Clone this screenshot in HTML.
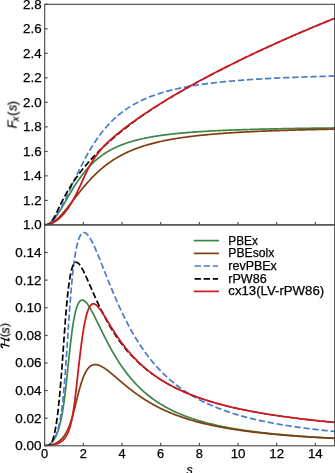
<!DOCTYPE html>
<html><head><meta charset="utf-8"><title>chart</title><style>html,body{margin:0;padding:0;background:#fff}body{width:335px;height:473px;overflow:hidden}svg{position:absolute;left:0;top:0}text{filter:url(#nf);stroke:#000;stroke-width:.25px}</style></head><body>
<svg width="335" height="473" viewBox="0 0 335 473" style="display:block;font-family:'Liberation Sans',sans-serif;font-size:12.5px" fill="#000">
<defs><filter id="nf" x="-20%" y="-20%" width="140%" height="140%"><feOffset dx="0" dy="0"/></filter><clipPath id="ct"><rect x="44.7" y="4.3" width="290.3" height="220.6"/></clipPath><clipPath id="cb"><rect x="44.7" y="224.9" width="290.3" height="220.9"/></clipPath></defs>
<rect width="335" height="473" fill="#fff"/>
<g clip-path="url(#ct)" fill="none" stroke-width="1.7" stroke-linejoin="round">
<path d="M44.70,224.90 L45.09,224.89 L45.47,224.86 L45.86,224.80 L46.25,224.73 L46.63,224.63 L47.02,224.51 L47.41,224.38 L47.79,224.22 L48.18,224.04 L48.57,223.84 L48.95,223.61 L49.34,223.37 L49.73,223.11 L50.11,222.84 L50.50,222.54 L50.89,222.22 L51.27,221.89 L51.66,221.53 L52.05,221.16 L52.43,220.78 L52.82,220.37 L53.21,219.95 L53.59,219.52 L53.98,219.07 L54.37,218.60 L54.75,218.13 L55.14,217.63 L55.53,217.13 L55.91,216.61 L56.30,216.08 L56.69,215.54 L57.07,214.99 L57.46,214.43 L57.85,213.85 L58.23,213.27 L58.62,212.68 L59.01,212.08 L59.39,211.48 L59.78,210.86 L60.17,210.24 L60.55,209.62 L60.94,208.98 L61.33,208.35 L61.71,207.70 L62.10,207.06 L62.49,206.40 L62.87,205.75 L63.26,205.09 L63.65,204.43 L64.03,203.77 L64.42,203.10 L64.81,202.44 L65.19,201.77 L65.58,201.10 L65.97,200.43 L66.35,199.76 L66.74,199.09 L67.13,198.43 L67.51,197.76 L67.90,197.09 L68.29,196.43 L68.67,195.77 L69.06,195.10 L69.45,194.45 L69.83,193.79 L70.22,193.14 L70.61,192.49 L70.99,191.84 L71.38,191.19 L71.77,190.55 L72.15,189.91 L72.54,189.28 L72.93,188.65 L73.31,188.03 L73.70,187.40 L74.09,186.79 L74.47,186.17 L74.86,185.57 L75.25,184.96 L75.63,184.36 L76.02,183.77 L76.41,183.18 L76.79,182.60 L77.18,182.02 L77.57,181.44 L77.95,180.87 L78.34,180.31 L78.73,179.75 L79.11,179.20 L79.50,178.65 L79.89,178.11 L80.27,177.57 L80.66,177.04 L81.05,176.51 L81.43,175.99 L81.82,175.47 L82.21,174.96 L82.59,174.46 L82.98,173.96 L83.37,173.46 L83.75,172.97 L84.14,172.49 L84.53,172.01 L84.91,171.54 L85.30,171.07 L85.69,170.61 L86.07,170.15 L86.46,169.70 L86.85,169.25 L87.23,168.81 L87.62,168.37 L88.01,167.94 L88.39,167.52 L88.78,167.09 L89.17,166.68 L89.55,166.27 L89.94,165.86 L90.33,165.46 L90.71,165.06 L91.10,164.67 L91.49,164.28 L91.87,163.90 L92.26,163.52 L92.65,163.14 L93.03,162.77 L93.42,162.41 L93.81,162.05 L94.19,161.69 L94.58,161.34 L94.97,160.99 L95.35,160.65 L95.74,160.31 L96.13,159.97 L96.51,159.64 L96.90,159.32 L97.29,158.99 L97.67,158.67 L98.06,158.36 L98.45,158.05 L98.83,157.74 L99.22,157.44 L99.61,157.14 L99.99,156.84 L100.38,156.55 L100.77,156.26 L101.15,155.97 L101.54,155.69 L101.93,155.41 L102.31,155.14 L102.70,154.87 L103.09,154.60 L103.47,154.33 L103.86,154.07 L104.25,153.81 L104.63,153.56 L105.02,153.30 L105.41,153.05 L105.79,152.81 L106.18,152.57 L106.57,152.32 L106.95,152.09 L107.34,151.85 L107.73,151.62 L108.11,151.39 L108.50,151.17 L108.89,150.94 L109.27,150.72 L109.66,150.50 L110.05,150.29 L110.43,150.07 L110.82,149.86 L111.21,149.65 L111.59,149.45 L111.98,149.25 L112.37,149.05 L112.75,148.85 L113.14,148.65 L113.53,148.46 L113.91,148.27 L114.30,148.08 L114.69,147.89 L115.07,147.71 L115.46,147.52 L115.85,147.34 L116.23,147.16 L116.62,146.99 L117.01,146.81 L117.39,146.64 L117.78,146.47 L118.17,146.30 L118.55,146.14 L118.94,145.97 L119.33,145.81 L119.71,145.65 L120.10,145.49 L120.49,145.33 L120.87,145.18 L121.26,145.02 L121.65,144.87 L122.03,144.72 L122.42,144.57 L122.81,144.42 L123.19,144.28 L123.58,144.14 L123.97,143.99 L124.35,143.85 L124.74,143.71 L125.13,143.58 L125.51,143.44 L125.90,143.31 L126.29,143.17 L126.67,143.04 L127.06,142.91 L127.45,142.78 L127.83,142.66 L128.22,142.53 L128.61,142.41 L128.99,142.28 L129.38,142.16 L129.77,142.04 L130.15,141.92 L130.54,141.80 L130.93,141.69 L131.31,141.57 L131.70,141.46 L132.09,141.34 L132.47,141.23 L132.86,141.12 L133.25,141.01 L133.63,140.90 L134.02,140.80 L134.41,140.69 L134.79,140.59 L135.18,140.48 L135.57,140.38 L135.95,140.28 L136.34,140.18 L136.73,140.08 L137.11,139.98 L137.50,139.88 L137.89,139.78 L138.27,139.69 L138.66,139.59 L139.05,139.50 L139.43,139.41 L139.82,139.32 L140.21,139.22 L140.59,139.13 L140.98,139.05 L141.37,138.96 L142.33,138.74 L143.30,138.53 L144.26,138.32 L145.23,138.12 L146.20,137.92 L147.16,137.73 L148.13,137.54 L149.10,137.36 L150.06,137.18 L151.03,137.01 L152.00,136.84 L152.96,136.67 L153.93,136.51 L154.90,136.35 L155.86,136.19 L156.83,136.04 L157.80,135.89 L158.76,135.75 L159.73,135.60 L160.70,135.46 L161.66,135.33 L162.63,135.20 L163.60,135.06 L164.56,134.94 L165.53,134.81 L166.50,134.69 L167.46,134.57 L168.43,134.45 L169.40,134.34 L170.36,134.23 L171.33,134.12 L172.30,134.01 L173.26,133.90 L174.23,133.80 L175.20,133.70 L176.16,133.60 L177.13,133.50 L178.10,133.40 L179.06,133.31 L180.03,133.22 L181.00,133.13 L181.96,133.04 L182.93,132.95 L183.90,132.87 L184.86,132.78 L185.83,132.70 L186.80,132.62 L187.76,132.54 L188.73,132.47 L189.70,132.39 L190.66,132.31 L191.63,132.24 L192.60,132.17 L193.56,132.10 L194.53,132.03 L195.50,131.96 L196.46,131.89 L197.43,131.83 L198.40,131.76 L199.36,131.70 L200.33,131.64 L201.30,131.58 L202.26,131.51 L203.23,131.46 L204.20,131.40 L205.16,131.34 L206.13,131.28 L207.10,131.23 L208.06,131.17 L209.03,131.12 L210.00,131.07 L210.96,131.01 L211.93,130.96 L212.90,130.91 L213.86,130.86 L214.83,130.82 L215.80,130.77 L216.76,130.72 L217.73,130.67 L218.70,130.63 L219.66,130.58 L220.63,130.54 L221.60,130.50 L222.56,130.45 L223.53,130.41 L224.50,130.37 L225.46,130.33 L226.43,130.29 L227.40,130.25 L228.36,130.21 L229.33,130.17 L230.30,130.13 L231.26,130.09 L232.23,130.06 L233.20,130.02 L234.16,129.99 L235.13,129.95 L236.10,129.91 L237.06,129.88 L238.03,129.85 L239.00,129.81 L239.96,129.78 L240.93,129.75 L241.90,129.72 L242.86,129.68 L243.83,129.65 L244.80,129.62 L245.76,129.59 L246.73,129.56 L247.70,129.53 L248.66,129.50 L249.63,129.48 L250.60,129.45 L251.56,129.42 L252.53,129.39 L253.50,129.37 L254.46,129.34 L255.43,129.31 L256.40,129.29 L257.36,129.26 L258.33,129.23 L259.30,129.21 L260.26,129.19 L261.23,129.16 L262.20,129.14 L263.16,129.11 L264.13,129.09 L265.10,129.07 L266.06,129.04 L267.03,129.02 L268.00,129.00 L268.96,128.98 L269.93,128.95 L270.90,128.93 L271.86,128.91 L272.83,128.89 L273.80,128.87 L274.76,128.85 L275.73,128.83 L276.70,128.81 L277.66,128.79 L278.63,128.77 L279.60,128.75 L280.56,128.73 L281.53,128.71 L282.50,128.69 L283.46,128.68 L284.43,128.66 L285.40,128.64 L286.36,128.62 L287.33,128.60 L288.30,128.59 L289.26,128.57 L290.23,128.55 L291.20,128.54 L292.16,128.52 L293.13,128.50 L294.10,128.49 L295.06,128.47 L296.03,128.46 L297.00,128.44 L297.96,128.42 L298.93,128.41 L299.90,128.39 L300.86,128.38 L301.83,128.36 L302.80,128.35 L303.76,128.34 L304.73,128.32 L305.70,128.31 L306.66,128.29 L307.63,128.28 L308.60,128.26 L309.56,128.25 L310.53,128.24 L311.50,128.22 L312.46,128.21 L313.43,128.20 L314.40,128.19 L315.36,128.17 L316.33,128.16 L317.30,128.15 L318.26,128.14 L319.23,128.12 L320.20,128.11 L321.16,128.10 L322.13,128.09 L323.10,128.08 L324.06,128.06 L325.03,128.05 L326.00,128.04 L326.96,128.03 L327.93,128.02 L328.90,128.01 L329.86,128.00 L330.83,127.99 L331.80,127.98 L332.76,127.96 L333.73,127.95 L334.69,127.94" stroke="#3c8647" stroke-linecap="square"/>
<path d="M44.70,224.90 L45.09,224.89 L45.47,224.88 L45.86,224.85 L46.25,224.80 L46.63,224.75 L47.02,224.68 L47.41,224.60 L47.79,224.51 L48.18,224.41 L48.57,224.30 L48.95,224.17 L49.34,224.04 L49.73,223.89 L50.11,223.73 L50.50,223.56 L50.89,223.37 L51.27,223.18 L51.66,222.98 L52.05,222.76 L52.43,222.54 L52.82,222.30 L53.21,222.06 L53.59,221.80 L53.98,221.53 L54.37,221.26 L54.75,220.97 L55.14,220.68 L55.53,220.37 L55.91,220.06 L56.30,219.74 L56.69,219.41 L57.07,219.07 L57.46,218.72 L57.85,218.37 L58.23,218.00 L58.62,217.63 L59.01,217.26 L59.39,216.87 L59.78,216.48 L60.17,216.08 L60.55,215.68 L60.94,215.27 L61.33,214.85 L61.71,214.43 L62.10,214.00 L62.49,213.57 L62.87,213.13 L63.26,212.68 L63.65,212.24 L64.03,211.78 L64.42,211.33 L64.81,210.87 L65.19,210.40 L65.58,209.93 L65.97,209.46 L66.35,208.99 L66.74,208.51 L67.13,208.03 L67.51,207.54 L67.90,207.06 L68.29,206.57 L68.67,206.08 L69.06,205.59 L69.45,205.09 L69.83,204.60 L70.22,204.10 L70.61,203.60 L70.99,203.11 L71.38,202.61 L71.77,202.11 L72.15,201.60 L72.54,201.10 L72.93,200.60 L73.31,200.10 L73.70,199.60 L74.09,199.10 L74.47,198.60 L74.86,198.10 L75.25,197.60 L75.63,197.10 L76.02,196.60 L76.41,196.10 L76.79,195.60 L77.18,195.11 L77.57,194.61 L77.95,194.12 L78.34,193.63 L78.73,193.14 L79.11,192.65 L79.50,192.16 L79.89,191.68 L80.27,191.20 L80.66,190.72 L81.05,190.24 L81.43,189.76 L81.82,189.28 L82.21,188.81 L82.59,188.34 L82.98,187.87 L83.37,187.41 L83.75,186.94 L84.14,186.48 L84.53,186.02 L84.91,185.57 L85.30,185.12 L85.69,184.67 L86.07,184.22 L86.46,183.77 L86.85,183.33 L87.23,182.89 L87.62,182.45 L88.01,182.02 L88.39,181.59 L88.78,181.16 L89.17,180.74 L89.55,180.31 L89.94,179.89 L90.33,179.48 L90.71,179.06 L91.10,178.65 L91.49,178.25 L91.87,177.84 L92.26,177.44 L92.65,177.04 L93.03,176.65 L93.42,176.25 L93.81,175.86 L94.19,175.48 L94.58,175.09 L94.97,174.71 L95.35,174.34 L95.74,173.96 L96.13,173.59 L96.51,173.22 L96.90,172.86 L97.29,172.49 L97.67,172.14 L98.06,171.78 L98.45,171.43 L98.83,171.08 L99.22,170.73 L99.61,170.38 L99.99,170.04 L100.38,169.70 L100.77,169.37 L101.15,169.03 L101.54,168.70 L101.93,168.38 L102.31,168.05 L102.70,167.73 L103.09,167.41 L103.47,167.10 L103.86,166.78 L104.25,166.47 L104.63,166.17 L105.02,165.86 L105.41,165.56 L105.79,165.26 L106.18,164.96 L106.57,164.67 L106.95,164.38 L107.34,164.09 L107.73,163.80 L108.11,163.52 L108.50,163.24 L108.89,162.96 L109.27,162.69 L109.66,162.41 L110.05,162.14 L110.43,161.87 L110.82,161.61 L111.21,161.34 L111.59,161.08 L111.98,160.82 L112.37,160.57 L112.75,160.31 L113.14,160.06 L113.53,159.81 L113.91,159.56 L114.30,159.32 L114.69,159.08 L115.07,158.84 L115.46,158.60 L115.85,158.36 L116.23,158.13 L116.62,157.90 L117.01,157.67 L117.39,157.44 L117.78,157.21 L118.17,156.99 L118.55,156.77 L118.94,156.55 L119.33,156.33 L119.71,156.12 L120.10,155.91 L120.49,155.69 L120.87,155.49 L121.26,155.28 L121.65,155.07 L122.03,154.87 L122.42,154.67 L122.81,154.47 L123.19,154.27 L123.58,154.07 L123.97,153.88 L124.35,153.69 L124.74,153.50 L125.13,153.31 L125.51,153.12 L125.90,152.93 L126.29,152.75 L126.67,152.57 L127.06,152.39 L127.45,152.21 L127.83,152.03 L128.22,151.85 L128.61,151.68 L128.99,151.51 L129.38,151.34 L129.77,151.17 L130.15,151.00 L130.54,150.83 L130.93,150.67 L131.31,150.50 L131.70,150.34 L132.09,150.18 L132.47,150.02 L132.86,149.87 L133.25,149.71 L133.63,149.55 L134.02,149.40 L134.41,149.25 L134.79,149.10 L135.18,148.95 L135.57,148.80 L135.95,148.65 L136.34,148.51 L136.73,148.36 L137.11,148.22 L137.50,148.08 L137.89,147.94 L138.27,147.80 L138.66,147.66 L139.05,147.52 L139.43,147.39 L139.82,147.25 L140.21,147.12 L140.59,146.99 L140.98,146.86 L141.37,146.73 L142.33,146.41 L143.30,146.10 L144.26,145.79 L145.23,145.49 L146.20,145.20 L147.16,144.91 L148.13,144.63 L149.10,144.35 L150.06,144.08 L151.03,143.82 L152.00,143.56 L152.96,143.31 L153.93,143.06 L154.90,142.82 L155.86,142.58 L156.83,142.35 L157.80,142.12 L158.76,141.89 L159.73,141.67 L160.70,141.46 L161.66,141.25 L162.63,141.04 L163.60,140.84 L164.56,140.64 L165.53,140.45 L166.50,140.25 L167.46,140.07 L168.43,139.88 L169.40,139.70 L170.36,139.53 L171.33,139.35 L172.30,139.18 L173.26,139.01 L174.23,138.85 L175.20,138.69 L176.16,138.53 L177.13,138.37 L178.10,138.22 L179.06,138.07 L180.03,137.92 L181.00,137.78 L181.96,137.64 L182.93,137.50 L183.90,137.36 L184.86,137.23 L185.83,137.10 L186.80,136.97 L187.76,136.84 L188.73,136.71 L189.70,136.59 L190.66,136.47 L191.63,136.35 L192.60,136.23 L193.56,136.12 L194.53,136.00 L195.50,135.89 L196.46,135.78 L197.43,135.68 L198.40,135.57 L199.36,135.47 L200.33,135.36 L201.30,135.26 L202.26,135.16 L203.23,135.07 L204.20,134.97 L205.16,134.88 L206.13,134.78 L207.10,134.69 L208.06,134.60 L209.03,134.51 L210.00,134.43 L210.96,134.34 L211.93,134.25 L212.90,134.17 L213.86,134.09 L214.83,134.01 L215.80,133.93 L216.76,133.85 L217.73,133.77 L218.70,133.70 L219.66,133.62 L220.63,133.55 L221.60,133.48 L222.56,133.41 L223.53,133.33 L224.50,133.27 L225.46,133.20 L226.43,133.13 L227.40,133.06 L228.36,133.00 L229.33,132.93 L230.30,132.87 L231.26,132.81 L232.23,132.74 L233.20,132.68 L234.16,132.62 L235.13,132.56 L236.10,132.50 L237.06,132.45 L238.03,132.39 L239.00,132.33 L239.96,132.28 L240.93,132.22 L241.90,132.17 L242.86,132.12 L243.83,132.06 L244.80,132.01 L245.76,131.96 L246.73,131.91 L247.70,131.86 L248.66,131.81 L249.63,131.76 L250.60,131.72 L251.56,131.67 L252.53,131.62 L253.50,131.58 L254.46,131.53 L255.43,131.49 L256.40,131.44 L257.36,131.40 L258.33,131.35 L259.30,131.31 L260.26,131.27 L261.23,131.23 L262.20,131.19 L263.16,131.15 L264.13,131.11 L265.10,131.07 L266.06,131.03 L267.03,130.99 L268.00,130.95 L268.96,130.91 L269.93,130.88 L270.90,130.84 L271.86,130.80 L272.83,130.77 L273.80,130.73 L274.76,130.70 L275.73,130.66 L276.70,130.63 L277.66,130.59 L278.63,130.56 L279.60,130.53 L280.56,130.50 L281.53,130.46 L282.50,130.43 L283.46,130.40 L284.43,130.37 L285.40,130.34 L286.36,130.31 L287.33,130.28 L288.30,130.25 L289.26,130.22 L290.23,130.19 L291.20,130.16 L292.16,130.13 L293.13,130.10 L294.10,130.08 L295.06,130.05 L296.03,130.02 L297.00,129.99 L297.96,129.97 L298.93,129.94 L299.90,129.92 L300.86,129.89 L301.83,129.86 L302.80,129.84 L303.76,129.81 L304.73,129.79 L305.70,129.76 L306.66,129.74 L307.63,129.72 L308.60,129.69 L309.56,129.67 L310.53,129.65 L311.50,129.62 L312.46,129.60 L313.43,129.58 L314.40,129.56 L315.36,129.53 L316.33,129.51 L317.30,129.49 L318.26,129.47 L319.23,129.45 L320.20,129.43 L321.16,129.41 L322.13,129.39 L323.10,129.37 L324.06,129.35 L325.03,129.33 L326.00,129.31 L326.96,129.29 L327.93,129.27 L328.90,129.25 L329.86,129.23 L330.83,129.21 L331.80,129.19 L332.76,129.17 L333.73,129.16 L334.69,129.14" stroke="#813d12" stroke-linecap="square"/>
<path d="M44.70,224.90 L45.09,224.89 L45.47,224.86 L45.86,224.80 L46.25,224.73 L46.63,224.63 L47.02,224.51 L47.41,224.37 L47.79,224.21 L48.18,224.03 L48.57,223.83 L48.95,223.61 L49.34,223.37 L49.73,223.10 L50.11,222.82 L50.50,222.52 L50.89,222.19 L51.27,221.85 L51.66,221.49 L52.05,221.11 L52.43,220.71 L52.82,220.30 L53.21,219.86 L53.59,219.41 L53.98,218.94 L54.37,218.46 L54.75,217.96 L55.14,217.44 L55.53,216.91 L55.91,216.36 L56.30,215.79 L56.69,215.22 L57.07,214.62 L57.46,214.02 L57.85,213.40 L58.23,212.77 L58.62,212.12 L59.01,211.47 L59.39,210.80 L59.78,210.12 L60.17,209.43 L60.55,208.73 L60.94,208.02 L61.33,207.30 L61.71,206.57 L62.10,205.83 L62.49,205.09 L62.87,204.33 L63.26,203.57 L63.65,202.80 L64.03,202.03 L64.42,201.25 L64.81,200.46 L65.19,199.67 L65.58,198.87 L65.97,198.07 L66.35,197.27 L66.74,196.46 L67.13,195.64 L67.51,194.82 L67.90,194.00 L68.29,193.18 L68.67,192.36 L69.06,191.53 L69.45,190.70 L69.83,189.87 L70.22,189.04 L70.61,188.21 L70.99,187.38 L71.38,186.55 L71.77,185.71 L72.15,184.88 L72.54,184.05 L72.93,183.22 L73.31,182.39 L73.70,181.56 L74.09,180.74 L74.47,179.91 L74.86,179.09 L75.25,178.27 L75.63,177.45 L76.02,176.63 L76.41,175.82 L76.79,175.01 L77.18,174.20 L77.57,173.40 L77.95,172.60 L78.34,171.80 L78.73,171.00 L79.11,170.21 L79.50,169.43 L79.89,168.64 L80.27,167.87 L80.66,167.09 L81.05,166.32 L81.43,165.56 L81.82,164.79 L82.21,164.04 L82.59,163.29 L82.98,162.54 L83.37,161.80 L83.75,161.06 L84.14,160.33 L84.53,159.60 L84.91,158.87 L85.30,158.16 L85.69,157.44 L86.07,156.74 L86.46,156.03 L86.85,155.34 L87.23,154.65 L87.62,153.96 L88.01,153.28 L88.39,152.60 L88.78,151.93 L89.17,151.27 L89.55,150.61 L89.94,149.95 L90.33,149.30 L90.71,148.66 L91.10,148.02 L91.49,147.39 L91.87,146.76 L92.26,146.14 L92.65,145.52 L93.03,144.91 L93.42,144.30 L93.81,143.70 L94.19,143.11 L94.58,142.52 L94.97,141.93 L95.35,141.35 L95.74,140.78 L96.13,140.21 L96.51,139.64 L96.90,139.08 L97.29,138.53 L97.67,137.98 L98.06,137.44 L98.45,136.90 L98.83,136.37 L99.22,135.84 L99.61,135.31 L99.99,134.80 L100.38,134.28 L100.77,133.77 L101.15,133.27 L101.54,132.77 L101.93,132.28 L102.31,131.79 L102.70,131.30 L103.09,130.82 L103.47,130.35 L103.86,129.88 L104.25,129.41 L104.63,128.95 L105.02,128.49 L105.41,128.04 L105.79,127.59 L106.18,127.15 L106.57,126.71 L106.95,126.27 L107.34,125.84 L107.73,125.41 L108.11,124.99 L108.50,124.57 L108.89,124.16 L109.27,123.75 L109.66,123.34 L110.05,122.94 L110.43,122.54 L110.82,122.15 L111.21,121.75 L111.59,121.37 L111.98,120.99 L112.37,120.61 L112.75,120.23 L113.14,119.86 L113.53,119.49 L113.91,119.13 L114.30,118.77 L114.69,118.41 L115.07,118.06 L115.46,117.70 L115.85,117.36 L116.23,117.01 L116.62,116.67 L117.01,116.34 L117.39,116.00 L117.78,115.67 L118.17,115.35 L118.55,115.02 L118.94,114.70 L119.33,114.39 L119.71,114.07 L120.10,113.76 L120.49,113.45 L120.87,113.15 L121.26,112.85 L121.65,112.55 L122.03,112.25 L122.42,111.96 L122.81,111.67 L123.19,111.38 L123.58,111.09 L123.97,110.81 L124.35,110.53 L124.74,110.26 L125.13,109.98 L125.51,109.71 L125.90,109.44 L126.29,109.18 L126.67,108.91 L127.06,108.65 L127.45,108.39 L127.83,108.14 L128.22,107.88 L128.61,107.63 L128.99,107.38 L129.38,107.13 L129.77,106.89 L130.15,106.65 L130.54,106.41 L130.93,106.17 L131.31,105.94 L131.70,105.70 L132.09,105.47 L132.47,105.24 L132.86,105.02 L133.25,104.79 L133.63,104.57 L134.02,104.35 L134.41,104.13 L134.79,103.92 L135.18,103.70 L135.57,103.49 L135.95,103.28 L136.34,103.07 L136.73,102.87 L137.11,102.66 L137.50,102.46 L137.89,102.26 L138.27,102.06 L138.66,101.86 L139.05,101.67 L139.43,101.47 L139.82,101.28 L140.21,101.09 L140.59,100.90 L140.98,100.72 L141.37,100.53 L142.33,100.08 L143.30,99.63 L144.26,99.20 L145.23,98.77 L146.20,98.36 L147.16,97.95 L148.13,97.55 L149.10,97.16 L150.06,96.78 L151.03,96.41 L152.00,96.04 L152.96,95.69 L153.93,95.34 L154.90,95.00 L155.86,94.66 L156.83,94.33 L157.80,94.01 L158.76,93.70 L159.73,93.39 L160.70,93.09 L161.66,92.79 L162.63,92.50 L163.60,92.22 L164.56,91.94 L165.53,91.66 L166.50,91.40 L167.46,91.13 L168.43,90.88 L169.40,90.62 L170.36,90.38 L171.33,90.13 L172.30,89.90 L173.26,89.66 L174.23,89.43 L175.20,89.21 L176.16,88.99 L177.13,88.77 L178.10,88.56 L179.06,88.35 L180.03,88.15 L181.00,87.95 L181.96,87.75 L182.93,87.56 L183.90,87.37 L184.86,87.18 L185.83,87.00 L186.80,86.82 L187.76,86.64 L188.73,86.46 L189.70,86.29 L190.66,86.13 L191.63,85.96 L192.60,85.80 L193.56,85.64 L194.53,85.48 L195.50,85.33 L196.46,85.18 L197.43,85.03 L198.40,84.88 L199.36,84.74 L200.33,84.60 L201.30,84.46 L202.26,84.32 L203.23,84.19 L204.20,84.06 L205.16,83.92 L206.13,83.80 L207.10,83.67 L208.06,83.55 L209.03,83.42 L210.00,83.30 L210.96,83.19 L211.93,83.07 L212.90,82.95 L213.86,82.84 L214.83,82.73 L215.80,82.62 L216.76,82.51 L217.73,82.41 L218.70,82.30 L219.66,82.20 L220.63,82.10 L221.60,82.00 L222.56,81.90 L223.53,81.80 L224.50,81.71 L225.46,81.61 L226.43,81.52 L227.40,81.43 L228.36,81.34 L229.33,81.25 L230.30,81.16 L231.26,81.08 L232.23,80.99 L233.20,80.91 L234.16,80.83 L235.13,80.75 L236.10,80.67 L237.06,80.59 L238.03,80.51 L239.00,80.43 L239.96,80.35 L240.93,80.28 L241.90,80.21 L242.86,80.13 L243.83,80.06 L244.80,79.99 L245.76,79.92 L246.73,79.85 L247.70,79.78 L248.66,79.72 L249.63,79.65 L250.60,79.58 L251.56,79.52 L252.53,79.46 L253.50,79.39 L254.46,79.33 L255.43,79.27 L256.40,79.21 L257.36,79.15 L258.33,79.09 L259.30,79.03 L260.26,78.98 L261.23,78.92 L262.20,78.86 L263.16,78.81 L264.13,78.75 L265.10,78.70 L266.06,78.65 L267.03,78.59 L268.00,78.54 L268.96,78.49 L269.93,78.44 L270.90,78.39 L271.86,78.34 L272.83,78.29 L273.80,78.24 L274.76,78.19 L275.73,78.15 L276.70,78.10 L277.66,78.05 L278.63,78.01 L279.60,77.96 L280.56,77.92 L281.53,77.88 L282.50,77.83 L283.46,77.79 L284.43,77.75 L285.40,77.70 L286.36,77.66 L287.33,77.62 L288.30,77.58 L289.26,77.54 L290.23,77.50 L291.20,77.46 L292.16,77.42 L293.13,77.39 L294.10,77.35 L295.06,77.31 L296.03,77.27 L297.00,77.24 L297.96,77.20 L298.93,77.16 L299.90,77.13 L300.86,77.09 L301.83,77.06 L302.80,77.02 L303.76,76.99 L304.73,76.96 L305.70,76.92 L306.66,76.89 L307.63,76.86 L308.60,76.83 L309.56,76.79 L310.53,76.76 L311.50,76.73 L312.46,76.70 L313.43,76.67 L314.40,76.64 L315.36,76.61 L316.33,76.58 L317.30,76.55 L318.26,76.52 L319.23,76.49 L320.20,76.46 L321.16,76.44 L322.13,76.41 L323.10,76.38 L324.06,76.35 L325.03,76.33 L326.00,76.30 L326.96,76.27 L327.93,76.25 L328.90,76.22 L329.86,76.19 L330.83,76.17 L331.80,76.14 L332.76,76.12 L333.73,76.09 L334.69,76.07" stroke="#4a7ccc" stroke-dasharray="6.33 2.74" stroke-dashoffset="2.2"/>
<path d="M44.70,224.90 L45.09,224.89 L45.47,224.88 L45.86,224.84 L46.25,224.80 L46.63,224.74 L47.02,224.66 L47.41,224.56 L47.79,224.43 L48.18,224.28 L48.57,224.11 L48.95,223.90 L49.34,223.65 L49.73,223.37 L50.11,223.05 L50.50,222.69 L50.89,222.29 L51.27,221.85 L51.66,221.37 L52.05,220.85 L52.43,220.29 L52.82,219.69 L53.21,219.07 L53.59,218.41 L53.98,217.72 L54.37,217.01 L54.75,216.28 L55.14,215.54 L55.53,214.77 L55.91,214.00 L56.30,213.21 L56.69,212.42 L57.07,211.63 L57.46,210.82 L57.85,210.02 L58.23,209.22 L58.62,208.41 L59.01,207.61 L59.39,206.82 L59.78,206.02 L60.17,205.23 L60.55,204.44 L60.94,203.66 L61.33,202.89 L61.71,202.12 L62.10,201.36 L62.49,200.60 L62.87,199.85 L63.26,199.10 L63.65,198.37 L64.03,197.64 L64.42,196.92 L64.81,196.20 L65.19,195.49 L65.58,194.79 L65.97,194.09 L66.35,193.40 L66.74,192.72 L67.13,192.04 L67.51,191.37 L67.90,190.71 L68.29,190.05 L68.67,189.40 L69.06,188.75 L69.45,188.12 L69.83,187.48 L70.22,186.86 L70.61,186.23 L70.99,185.62 L71.38,185.01 L71.77,184.40 L72.15,183.80 L72.54,183.21 L72.93,182.62 L73.31,182.04 L73.70,181.46 L74.09,180.88 L74.47,180.31 L74.86,179.75 L75.25,179.19 L75.63,178.63 L76.02,178.08 L76.41,177.53 L76.79,176.99 L77.18,176.45 L77.57,175.92 L77.95,175.39 L78.34,174.86 L78.73,174.34 L79.11,173.82 L79.50,173.31 L79.89,172.80 L80.27,172.29 L80.66,171.78 L81.05,171.28 L81.43,170.79 L81.82,170.29 L82.21,169.80 L82.59,169.32 L82.98,168.83 L83.37,168.35 L83.75,167.88 L84.14,167.40 L84.53,166.93 L84.91,166.47 L85.30,166.00 L85.69,165.54 L86.07,165.08 L86.46,164.62 L86.85,164.17 L87.23,163.72 L87.62,163.27 L88.01,162.83 L88.39,162.38 L88.78,161.94 L89.17,161.51 L89.55,161.07 L89.94,160.64 L90.33,160.21 L90.71,159.78 L91.10,159.36 L91.49,158.93 L91.87,158.51 L92.26,158.09 L92.65,157.68 L93.03,157.26 L93.42,156.85 L93.81,156.44 L94.19,156.03 L94.58,155.63 L94.97,155.22 L95.35,154.82 L95.74,154.42 L96.13,154.03 L96.51,153.63 L96.90,153.24 L97.29,152.84 L97.67,152.45 L98.06,152.07 L98.45,151.68 L98.83,151.29 L99.22,150.91 L99.61,150.53 L99.99,150.15 L100.38,149.77 L100.77,149.40 L101.15,149.02 L101.54,148.65 L101.93,148.28 L102.31,147.91 L102.70,147.54 L103.09,147.18 L103.47,146.81 L103.86,146.45 L104.25,146.09 L104.63,145.73 L105.02,145.37 L105.41,145.01 L105.79,144.66 L106.18,144.30 L106.57,143.95 L106.95,143.60 L107.34,143.25 L107.73,142.90 L108.11,142.55 L108.50,142.21 L108.89,141.86 L109.27,141.52 L109.66,141.18 L110.05,140.83 L110.43,140.50 L110.82,140.16 L111.21,139.82 L111.59,139.48 L111.98,139.15 L112.37,138.82 L112.75,138.48 L113.14,138.15 L113.53,137.82 L113.91,137.49 L114.30,137.17 L114.69,136.84 L115.07,136.51 L115.46,136.19 L115.85,135.87 L116.23,135.54 L116.62,135.22 L117.01,134.90 L117.39,134.58 L117.78,134.27 L118.17,133.95 L118.55,133.63 L118.94,133.32 L119.33,133.00 L119.71,132.69 L120.10,132.38 L120.49,132.07 L120.87,131.76 L121.26,131.45 L121.65,131.14 L122.03,130.83 L122.42,130.53 L122.81,130.22 L123.19,129.92 L123.58,129.61 L123.97,129.31 L124.35,129.01 L124.74,128.71 L125.13,128.41 L125.51,128.11 L125.90,127.81 L126.29,127.51 L126.67,127.22 L127.06,126.92 L127.45,126.63 L127.83,126.33 L128.22,126.04 L128.61,125.75 L128.99,125.46 L129.38,125.16 L129.77,124.87 L130.15,124.58 L130.54,124.30 L130.93,124.01 L131.31,123.72" stroke="#000000" stroke-dasharray="6.33 2.74"/>
<path d="M131.31,123.72 L131.70,123.43 L132.09,123.15 L132.47,122.86 L132.86,122.58 L133.25,122.30 L133.63,122.01 L134.02,121.73 L134.41,121.45 L134.79,121.17 L135.18,120.89 L135.57,120.61 L135.95,120.33 L136.34,120.05 L136.73,119.78 L137.11,119.50 L137.50,119.22 L137.89,118.95 L138.27,118.67 L138.66,118.40 L139.05,118.13 L139.43,117.85 L139.82,117.58 L140.21,117.31 L140.59,117.04 L140.98,116.77 L141.37,116.50 L142.33,115.83 L143.30,115.16 L144.26,114.50 L145.23,113.84 L146.20,113.18 L147.16,112.53 L148.13,111.88 L149.10,111.23 L150.06,110.59 L151.03,109.95 L152.00,109.31 L152.96,108.68 L153.93,108.04 L154.90,107.42 L155.86,106.79 L156.83,106.17 L157.80,105.55 L158.76,104.94 L159.73,104.32 L160.70,103.71 L161.66,103.10 L162.63,102.50 L163.60,101.89 L164.56,101.29 L165.53,100.70 L166.50,100.10 L167.46,99.51 L168.43,98.92 L169.40,98.33 L170.36,97.74 L171.33,97.16 L172.30,96.58 L173.26,96.00 L174.23,95.43 L175.20,94.85 L176.16,94.28 L177.13,93.71 L178.10,93.14 L179.06,92.57 L180.03,92.01 L181.00,91.45 L181.96,90.89 L182.93,90.33 L183.90,89.78 L184.86,89.22 L185.83,88.67 L186.80,88.12 L187.76,87.57 L188.73,87.02 L189.70,86.48 L190.66,85.94 L191.63,85.40 L192.60,84.86 L193.56,84.32 L194.53,83.78 L195.50,83.25 L196.46,82.72 L197.43,82.18 L198.40,81.65 L199.36,81.13 L200.33,80.60 L201.30,80.08 L202.26,79.55 L203.23,79.03 L204.20,78.51 L205.16,77.99 L206.13,77.48 L207.10,76.96 L208.06,76.45 L209.03,75.93 L210.00,75.42 L210.96,74.91 L211.93,74.41 L212.90,73.90 L213.86,73.39 L214.83,72.89 L215.80,72.39 L216.76,71.88 L217.73,71.38 L218.70,70.89 L219.66,70.39 L220.63,69.89 L221.60,69.40 L222.56,68.90 L223.53,68.41 L224.50,67.92 L225.46,67.43 L226.43,66.94 L227.40,66.45 L228.36,65.97 L229.33,65.48 L230.30,65.00 L231.26,64.52 L232.23,64.04 L233.20,63.56 L234.16,63.08 L235.13,62.60 L236.10,62.12 L237.06,61.65 L238.03,61.17 L239.00,60.70 L239.96,60.23 L240.93,59.75 L241.90,59.28 L242.86,58.81 L243.83,58.35 L244.80,57.88 L245.76,57.41 L246.73,56.95 L247.70,56.48 L248.66,56.02 L249.63,55.56 L250.60,55.10 L251.56,54.64 L252.53,54.18 L253.50,53.72 L254.46,53.27 L255.43,52.81 L256.40,52.35 L257.36,51.90 L258.33,51.45 L259.30,51.00 L260.26,50.54 L261.23,50.09 L262.20,49.65 L263.16,49.20 L264.13,48.75 L265.10,48.30 L266.06,47.86 L267.03,47.41 L268.00,46.97 L268.96,46.53 L269.93,46.08 L270.90,45.64 L271.86,45.20 L272.83,44.76 L273.80,44.33 L274.76,43.89 L275.73,43.45 L276.70,43.01 L277.66,42.58 L278.63,42.15 L279.60,41.71 L280.56,41.28 L281.53,40.85 L282.50,40.42 L283.46,39.99 L284.43,39.56 L285.40,39.13 L286.36,38.70 L287.33,38.27 L288.30,37.85 L289.26,37.42 L290.23,37.00 L291.20,36.58 L292.16,36.15 L293.13,35.73 L294.10,35.31 L295.06,34.89 L296.03,34.47 L297.00,34.05 L297.96,33.63 L298.93,33.21 L299.90,32.80 L300.86,32.38 L301.83,31.97 L302.80,31.55 L303.76,31.14 L304.73,30.72 L305.70,30.31 L306.66,29.90 L307.63,29.49 L308.60,29.08 L309.56,28.67 L310.53,28.26 L311.50,27.85 L312.46,27.44 L313.43,27.04 L314.40,26.63 L315.36,26.23 L316.33,25.82 L317.30,25.42 L318.26,25.01 L319.23,24.61 L320.20,24.21 L321.16,23.81 L322.13,23.41 L323.10,23.01 L324.06,22.61 L325.03,22.21 L326.00,21.81 L326.96,21.41 L327.93,21.02 L328.90,20.62 L329.86,20.23 L330.83,19.83 L331.80,19.44 L332.76,19.04 L333.73,18.65 L334.69,18.26" stroke="#000000" stroke-dasharray="6.33 2.74" stroke-dashoffset="8.78" stroke-width="1.3"/>
<path d="M44.70,224.90 L45.09,224.90 L45.47,224.88 L45.86,224.86 L46.25,224.83 L46.63,224.78 L47.02,224.73 L47.41,224.67 L47.79,224.60 L48.18,224.53 L48.57,224.44 L48.95,224.34 L49.34,224.23 L49.73,224.12 L50.11,223.99 L50.50,223.86 L50.89,223.72 L51.27,223.56 L51.66,223.40 L52.05,223.23 L52.43,223.05 L52.82,222.86 L53.21,222.66 L53.59,222.46 L53.98,222.24 L54.37,222.01 L54.75,221.78 L55.14,221.53 L55.53,221.28 L55.91,221.02 L56.30,220.75 L56.69,220.47 L57.07,220.18 L57.46,219.88 L57.85,219.57 L58.23,219.25 L58.62,218.93 L59.01,218.59 L59.39,218.25 L59.78,217.90 L60.17,217.54 L60.55,217.16 L60.94,216.78 L61.33,216.39 L61.71,216.00 L62.10,215.59 L62.49,215.17 L62.87,214.75 L63.26,214.31 L63.65,213.87 L64.03,213.41 L64.42,212.95 L64.81,212.48 L65.19,211.99 L65.58,211.50 L65.97,211.00 L66.35,210.49 L66.74,209.97 L67.13,209.45 L67.51,208.91 L67.90,208.36 L68.29,207.80 L68.67,207.24 L69.06,206.66 L69.45,206.07 L69.83,205.48 L70.22,204.87 L70.61,204.26 L70.99,203.63 L71.38,202.99 L71.77,202.35 L72.15,201.69 L72.54,201.02 L72.93,200.35 L73.31,199.66 L73.70,198.96 L74.09,198.25 L74.47,197.53 L74.86,196.80 L75.25,196.06 L75.63,195.31 L76.02,194.55 L76.41,193.78 L76.79,193.00 L77.18,192.21 L77.57,191.41 L77.95,190.60 L78.34,189.79 L78.73,188.97 L79.11,188.14 L79.50,187.30 L79.89,186.46 L80.27,185.62 L80.66,184.77 L81.05,183.92 L81.43,183.07 L81.82,182.21 L82.21,181.36 L82.59,180.50 L82.98,179.65 L83.37,178.80 L83.75,177.96 L84.14,177.12 L84.53,176.28 L84.91,175.46 L85.30,174.63 L85.69,173.82 L86.07,173.01 L86.46,172.21 L86.85,171.42 L87.23,170.64 L87.62,169.87 L88.01,169.11 L88.39,168.37 L88.78,167.63 L89.17,166.90 L89.55,166.19 L89.94,165.48 L90.33,164.79 L90.71,164.10 L91.10,163.43 L91.49,162.77 L91.87,162.12 L92.26,161.49 L92.65,160.86 L93.03,160.24 L93.42,159.64 L93.81,159.04 L94.19,158.46 L94.58,157.88 L94.97,157.31 L95.35,156.76 L95.74,156.21 L96.13,155.67 L96.51,155.14 L96.90,154.61 L97.29,154.10 L97.67,153.59 L98.06,153.09 L98.45,152.60 L98.83,152.12 L99.22,151.64 L99.61,151.17 L99.99,150.71 L100.38,150.25 L100.77,149.80 L101.15,149.35 L101.54,148.91 L101.93,148.47 L102.31,148.04 L102.70,147.62 L103.09,147.20 L103.47,146.78 L103.86,146.37 L104.25,145.96 L104.63,145.56 L105.02,145.16 L105.41,144.77 L105.79,144.38 L106.18,143.99 L106.57,143.61 L106.95,143.23 L107.34,142.85 L107.73,142.48 L108.11,142.11 L108.50,141.74 L108.89,141.37 L109.27,141.01 L109.66,140.65 L110.05,140.29 L110.43,139.94 L110.82,139.59 L111.21,139.24 L111.59,138.89 L111.98,138.55 L112.37,138.20 L112.75,137.86 L113.14,137.52 L113.53,137.19 L113.91,136.85 L114.30,136.52 L114.69,136.19 L115.07,135.86 L115.46,135.53 L115.85,135.20 L116.23,134.88 L116.62,134.56 L117.01,134.24 L117.39,133.92 L117.78,133.60 L118.17,133.28 L118.55,132.96 L118.94,132.65 L119.33,132.34 L119.71,132.03 L120.10,131.72 L120.49,131.41 L120.87,131.10 L121.26,130.79 L121.65,130.49 L122.03,130.18 L122.42,129.88 L122.81,129.58 L123.19,129.28 L123.58,128.98 L123.97,128.68 L124.35,128.38 L124.74,128.08 L125.13,127.79 L125.51,127.49 L125.90,127.20 L126.29,126.90 L126.67,126.61 L127.06,126.32 L127.45,126.03 L127.83,125.74 L128.22,125.45 L128.61,125.16 L128.99,124.88 L129.38,124.59 L129.77,124.30 L130.15,124.02 L130.54,123.74 L130.93,123.45 L131.31,123.17 L131.70,122.89 L132.09,122.61 L132.47,122.33 L132.86,122.05 L133.25,121.77 L133.63,121.49 L134.02,121.21 L134.41,120.94 L134.79,120.66 L135.18,120.39 L135.57,120.11 L135.95,119.84 L136.34,119.57 L136.73,119.29 L137.11,119.02 L137.50,118.75 L137.89,118.48 L138.27,118.21 L138.66,117.94 L139.05,117.67 L139.43,117.40 L139.82,117.14 L140.21,116.87 L140.59,116.60 L140.98,116.34 L141.37,116.07 L142.33,115.41 L143.30,114.75 L144.26,114.10 L145.23,113.45 L146.20,112.80 L147.16,112.16 L148.13,111.52 L149.10,110.88 L150.06,110.25 L151.03,109.62 L152.00,108.99 L152.96,108.36 L153.93,107.74 L154.90,107.12 L155.86,106.50 L156.83,105.89 L157.80,105.28 L158.76,104.67 L159.73,104.06 L160.70,103.46 L161.66,102.86 L162.63,102.26 L163.60,101.66 L164.56,101.07 L165.53,100.47 L166.50,99.88 L167.46,99.30 L168.43,98.71 L169.40,98.13 L170.36,97.55 L171.33,96.97 L172.30,96.39 L173.26,95.82 L174.23,95.25 L175.20,94.68 L176.16,94.11 L177.13,93.54 L178.10,92.98 L179.06,92.42 L180.03,91.86 L181.00,91.30 L181.96,90.74 L182.93,90.19 L183.90,89.64 L184.86,89.08 L185.83,88.54 L186.80,87.99 L187.76,87.44 L188.73,86.90 L189.70,86.36 L190.66,85.82 L191.63,85.28 L192.60,84.74 L193.56,84.21 L194.53,83.67 L195.50,83.14 L196.46,82.61 L197.43,82.08 L198.40,81.56 L199.36,81.03 L200.33,80.51 L201.30,79.98 L202.26,79.46 L203.23,78.94 L204.20,78.42 L205.16,77.91 L206.13,77.39 L207.10,76.88 L208.06,76.37 L209.03,75.86 L210.00,75.35 L210.96,74.84 L211.93,74.33 L212.90,73.83 L213.86,73.32 L214.83,72.82 L215.80,72.32 L216.76,71.82 L217.73,71.32 L218.70,70.82 L219.66,70.33 L220.63,69.83 L221.60,69.34 L222.56,68.84 L223.53,68.35 L224.50,67.86 L225.46,67.38 L226.43,66.89 L227.40,66.40 L228.36,65.92 L229.33,65.43 L230.30,64.95 L231.26,64.47 L232.23,63.99 L233.20,63.51 L234.16,63.03 L235.13,62.55 L236.10,62.08 L237.06,61.60 L238.03,61.13 L239.00,60.65 L239.96,60.18 L240.93,59.71 L241.90,59.24 L242.86,58.77 L243.83,58.31 L244.80,57.84 L245.76,57.38 L246.73,56.91 L247.70,56.45 L248.66,55.99 L249.63,55.52 L250.60,55.06 L251.56,54.61 L252.53,54.15 L253.50,53.69 L254.46,53.23 L255.43,52.78 L256.40,52.32 L257.36,51.87 L258.33,51.42 L259.30,50.97 L260.26,50.52 L261.23,50.07 L262.20,49.62 L263.16,49.17 L264.13,48.72 L265.10,48.28 L266.06,47.83 L267.03,47.39 L268.00,46.94 L268.96,46.50 L269.93,46.06 L270.90,45.62 L271.86,45.18 L272.83,44.74 L273.80,44.30 L274.76,43.86 L275.73,43.43 L276.70,42.99 L277.66,42.56 L278.63,42.12 L279.60,41.69 L280.56,41.26 L281.53,40.83 L282.50,40.40 L283.46,39.97 L284.43,39.54 L285.40,39.11 L286.36,38.68 L287.33,38.26 L288.30,37.83 L289.26,37.41 L290.23,36.98 L291.20,36.56 L292.16,36.14 L293.13,35.71 L294.10,35.29 L295.06,34.87 L296.03,34.45 L297.00,34.03 L297.96,33.62 L298.93,33.20 L299.90,32.78 L300.86,32.37 L301.83,31.95 L302.80,31.54 L303.76,31.12 L304.73,30.71 L305.70,30.30 L306.66,29.89 L307.63,29.47 L308.60,29.06 L309.56,28.65 L310.53,28.25 L311.50,27.84 L312.46,27.43 L313.43,27.02 L314.40,26.62 L315.36,26.21 L316.33,25.81 L317.30,25.40 L318.26,25.00 L319.23,24.60 L320.20,24.20 L321.16,23.80 L322.13,23.40 L323.10,23.00 L324.06,22.60 L325.03,22.20 L326.00,21.80 L326.96,21.40 L327.93,21.01 L328.90,20.61 L329.86,20.21 L330.83,19.82 L331.80,19.43 L332.76,19.03 L333.73,18.64 L334.69,18.25" stroke="#cc1a1e" stroke-linecap="square" stroke-width="1.8"/>
</g>
<g clip-path="url(#cb)" fill="none" stroke-width="1.7" stroke-linejoin="round">
<path d="M44.70,445.80 L45.09,445.79 L45.47,445.76 L45.86,445.72 L46.25,445.66 L46.63,445.58 L47.02,445.47 L47.41,445.35 L47.79,445.21 L48.18,445.05 L48.57,444.87 L48.95,444.67 L49.34,444.44 L49.73,444.19 L50.11,443.91 L50.50,443.61 L50.89,443.29 L51.27,442.93 L51.66,442.55 L52.05,442.14 L52.43,441.70 L52.82,441.22 L53.21,440.71 L53.59,440.17 L53.98,439.59 L54.37,438.97 L54.75,438.31 L55.14,437.61 L55.53,436.86 L55.91,436.07 L56.30,435.22 L56.69,434.33 L57.07,433.38 L57.46,432.36 L57.85,431.29 L58.23,430.15 L58.62,428.94 L59.01,427.65 L59.39,426.29 L59.78,424.84 L60.17,423.30 L60.55,421.67 L60.94,419.94 L61.33,418.10 L61.71,416.15 L62.10,414.08 L62.49,411.89 L62.87,409.57 L63.26,407.12 L63.65,404.54 L64.03,401.81 L64.42,398.95 L64.81,395.95 L65.19,392.81 L65.58,389.55 L65.97,386.17 L66.35,382.69 L66.74,379.11 L67.13,375.45 L67.51,371.75 L67.90,368.01 L68.29,364.26 L68.67,360.52 L69.06,356.81 L69.45,353.16 L69.83,349.58 L70.22,346.10 L70.61,342.71 L70.99,339.45 L71.38,336.32 L71.77,333.32 L72.15,330.46 L72.54,327.74 L72.93,325.18 L73.31,322.76 L73.70,320.48 L74.09,318.36 L74.47,316.37 L74.86,314.52 L75.25,312.81 L75.63,311.24 L76.02,309.78 L76.41,308.45 L76.79,307.24 L77.18,306.14 L77.57,305.15 L77.95,304.27 L78.34,303.48 L78.73,302.78 L79.11,302.18 L79.50,301.66 L79.89,301.22 L80.27,300.86 L80.66,300.58 L81.05,300.36 L81.43,300.21 L81.82,300.12 L82.21,300.09 L82.59,300.11 L82.98,300.19 L83.37,300.32 L83.75,300.49 L84.14,300.71 L84.53,300.98 L84.91,301.28 L85.30,301.62 L85.69,301.99 L86.07,302.39 L86.46,302.83 L86.85,303.30 L87.23,303.79 L87.62,304.31 L88.01,304.85 L88.39,305.42 L88.78,306.01 L89.17,306.61 L89.55,307.24 L89.94,307.88 L90.33,308.53 L90.71,309.20 L91.10,309.89 L91.49,310.59 L91.87,311.30 L92.26,312.01 L92.65,312.74 L93.03,313.48 L93.42,314.23 L93.81,314.98 L94.19,315.74 L94.58,316.51 L94.97,317.28 L95.35,318.05 L95.74,318.83 L96.13,319.61 L96.51,320.40 L96.90,321.19 L97.29,321.98 L97.67,322.77 L98.06,323.56 L98.45,324.36 L98.83,325.15 L99.22,325.95 L99.61,326.74 L99.99,327.53 L100.38,328.33 L100.77,329.12 L101.15,329.91 L101.54,330.69 L101.93,331.48 L102.31,332.26 L102.70,333.04 L103.09,333.82 L103.47,334.60 L103.86,335.37 L104.25,336.14 L104.63,336.91 L105.02,337.67 L105.41,338.43 L105.79,339.19 L106.18,339.94 L106.57,340.69 L106.95,341.43 L107.34,342.17 L107.73,342.90 L108.11,343.64 L108.50,344.36 L108.89,345.08 L109.27,345.80 L109.66,346.52 L110.05,347.22 L110.43,347.93 L110.82,348.63 L111.21,349.32 L111.59,350.01 L111.98,350.70 L112.37,351.38 L112.75,352.05 L113.14,352.72 L113.53,353.39 L113.91,354.05 L114.30,354.71 L114.69,355.36 L115.07,356.00 L115.46,356.64 L115.85,357.28 L116.23,357.91 L116.62,358.54 L117.01,359.16 L117.39,359.77 L117.78,360.38 L118.17,360.99 L118.55,361.59 L118.94,362.19 L119.33,362.78 L119.71,363.37 L120.10,363.95 L120.49,364.53 L120.87,365.10 L121.26,365.67 L121.65,366.23 L122.03,366.79 L122.42,367.35 L122.81,367.89 L123.19,368.44 L123.58,368.98 L123.97,369.52 L124.35,370.05 L124.74,370.57 L125.13,371.09 L125.51,371.61 L125.90,372.13 L126.29,372.63 L126.67,373.14 L127.06,373.64 L127.45,374.13 L127.83,374.63 L128.22,375.11 L128.61,375.60 L128.99,376.07 L129.38,376.55 L129.77,377.02 L130.15,377.49 L130.54,377.95 L130.93,378.41 L131.31,378.86 L131.70,379.31 L132.09,379.76 L132.47,380.20 L132.86,380.64 L133.25,381.08 L133.63,381.51 L134.02,381.94 L134.41,382.36 L134.79,382.78 L135.18,383.20 L135.57,383.61 L135.95,384.02 L136.34,384.43 L136.73,384.83 L137.11,385.23 L137.50,385.62 L137.89,386.02 L138.27,386.40 L138.66,386.79 L139.05,387.17 L139.43,387.55 L139.82,387.93 L140.21,388.30 L140.59,388.67 L140.98,389.03 L141.37,389.40 L142.33,390.29 L143.30,391.16 L144.26,392.02 L145.23,392.86 L146.20,393.68 L147.16,394.48 L148.13,395.27 L149.10,396.04 L150.06,396.79 L151.03,397.53 L152.00,398.25 L152.96,398.96 L153.93,399.65 L154.90,400.33 L155.86,401.00 L156.83,401.65 L157.80,402.29 L158.76,402.92 L159.73,403.53 L160.70,404.13 L161.66,404.72 L162.63,405.30 L163.60,405.86 L164.56,406.42 L165.53,406.96 L166.50,407.50 L167.46,408.02 L168.43,408.54 L169.40,409.04 L170.36,409.53 L171.33,410.02 L172.30,410.49 L173.26,410.96 L174.23,411.42 L175.20,411.87 L176.16,412.31 L177.13,412.74 L178.10,413.17 L179.06,413.58 L180.03,413.99 L181.00,414.39 L181.96,414.79 L182.93,415.18 L183.90,415.56 L184.86,415.93 L185.83,416.30 L186.80,416.66 L187.76,417.01 L188.73,417.36 L189.70,417.71 L190.66,418.04 L191.63,418.37 L192.60,418.70 L193.56,419.02 L194.53,419.33 L195.50,419.64 L196.46,419.94 L197.43,420.24 L198.40,420.54 L199.36,420.82 L200.33,421.11 L201.30,421.39 L202.26,421.66 L203.23,421.93 L204.20,422.20 L205.16,422.46 L206.13,422.72 L207.10,422.97 L208.06,423.22 L209.03,423.46 L210.00,423.71 L210.96,423.94 L211.93,424.18 L212.90,424.41 L213.86,424.63 L214.83,424.86 L215.80,425.08 L216.76,425.29 L217.73,425.51 L218.70,425.72 L219.66,425.92 L220.63,426.13 L221.60,426.33 L222.56,426.53 L223.53,426.72 L224.50,426.91 L225.46,427.10 L226.43,427.29 L227.40,427.47 L228.36,427.65 L229.33,427.83 L230.30,428.01 L231.26,428.18 L232.23,428.35 L233.20,428.52 L234.16,428.69 L235.13,428.85 L236.10,429.01 L237.06,429.17 L238.03,429.33 L239.00,429.48 L239.96,429.63 L240.93,429.78 L241.90,429.93 L242.86,430.08 L243.83,430.22 L244.80,430.37 L245.76,430.51 L246.73,430.65 L247.70,430.78 L248.66,430.92 L249.63,431.05 L250.60,431.18 L251.56,431.31 L252.53,431.44 L253.50,431.57 L254.46,431.69 L255.43,431.81 L256.40,431.94 L257.36,432.06 L258.33,432.18 L259.30,432.29 L260.26,432.41 L261.23,432.52 L262.20,432.63 L263.16,432.75 L264.13,432.86 L265.10,432.96 L266.06,433.07 L267.03,433.18 L268.00,433.28 L268.96,433.39 L269.93,433.49 L270.90,433.59 L271.86,433.69 L272.83,433.79 L273.80,433.88 L274.76,433.98 L275.73,434.07 L276.70,434.17 L277.66,434.26 L278.63,434.35 L279.60,434.44 L280.56,434.53 L281.53,434.62 L282.50,434.71 L283.46,434.80 L284.43,434.88 L285.40,434.97 L286.36,435.05 L287.33,435.13 L288.30,435.21 L289.26,435.29 L290.23,435.37 L291.20,435.45 L292.16,435.53 L293.13,435.61 L294.10,435.68 L295.06,435.76 L296.03,435.83 L297.00,435.91 L297.96,435.98 L298.93,436.05 L299.90,436.12 L300.86,436.19 L301.83,436.26 L302.80,436.33 L303.76,436.40 L304.73,436.47 L305.70,436.54 L306.66,436.60 L307.63,436.67 L308.60,436.73 L309.56,436.80 L310.53,436.86 L311.50,436.92 L312.46,436.99 L313.43,437.05 L314.40,437.11 L315.36,437.17 L316.33,437.23 L317.30,437.29 L318.26,437.34 L319.23,437.40 L320.20,437.46 L321.16,437.52 L322.13,437.57 L323.10,437.63 L324.06,437.68 L325.03,437.74 L326.00,437.79 L326.96,437.84 L327.93,437.90 L328.90,437.95 L329.86,438.00 L330.83,438.05 L331.80,438.10 L332.76,438.15 L333.73,438.20 L334.69,438.25" stroke="#3c8647" stroke-linecap="square"/>
<path d="M44.70,445.80 L45.09,445.80 L45.47,445.79 L45.86,445.78 L46.25,445.76 L46.63,445.73 L47.02,445.70 L47.41,445.67 L47.79,445.63 L48.18,445.58 L48.57,445.53 L48.95,445.47 L49.34,445.41 L49.73,445.34 L50.11,445.26 L50.50,445.18 L50.89,445.09 L51.27,444.99 L51.66,444.88 L52.05,444.77 L52.43,444.65 L52.82,444.52 L53.21,444.39 L53.59,444.25 L53.98,444.09 L54.37,443.93 L54.75,443.76 L55.14,443.59 L55.53,443.40 L55.91,443.20 L56.30,442.99 L56.69,442.77 L57.07,442.54 L57.46,442.30 L57.85,442.05 L58.23,441.78 L58.62,441.50 L59.01,441.21 L59.39,440.91 L59.78,440.59 L60.17,440.26 L60.55,439.91 L60.94,439.54 L61.33,439.16 L61.71,438.76 L62.10,438.34 L62.49,437.90 L62.87,437.44 L63.26,436.97 L63.65,436.47 L64.03,435.94 L64.42,435.40 L64.81,434.82 L65.19,434.22 L65.58,433.60 L65.97,432.94 L66.35,432.26 L66.74,431.54 L67.13,430.79 L67.51,430.01 L67.90,429.19 L68.29,428.33 L68.67,427.44 L69.06,426.50 L69.45,425.53 L69.83,424.51 L70.22,423.45 L70.61,422.35 L70.99,421.20 L71.38,420.01 L71.77,418.78 L72.15,417.50 L72.54,416.18 L72.93,414.82 L73.31,413.42 L73.70,411.99 L74.09,410.52 L74.47,409.02 L74.86,407.50 L75.25,405.96 L75.63,404.40 L76.02,402.84 L76.41,401.26 L76.79,399.69 L77.18,398.13 L77.57,396.57 L77.95,395.03 L78.34,393.52 L78.73,392.02 L79.11,390.56 L79.50,389.13 L79.89,387.73 L80.27,386.38 L80.66,385.06 L81.05,383.79 L81.43,382.56 L81.82,381.38 L82.21,380.24 L82.59,379.15 L82.98,378.10 L83.37,377.10 L83.75,376.15 L84.14,375.24 L84.53,374.38 L84.91,373.57 L85.30,372.79 L85.69,372.06 L86.07,371.37 L86.46,370.73 L86.85,370.12 L87.23,369.55 L87.62,369.02 L88.01,368.52 L88.39,368.06 L88.78,367.63 L89.17,367.24 L89.55,366.88 L89.94,366.55 L90.33,366.25 L90.71,365.98 L91.10,365.73 L91.49,365.52 L91.87,365.33 L92.26,365.16 L92.65,365.01 L93.03,364.89 L93.42,364.80 L93.81,364.72 L94.19,364.66 L94.58,364.62 L94.97,364.60 L95.35,364.60 L95.74,364.62 L96.13,364.65 L96.51,364.70 L96.90,364.76 L97.29,364.84 L97.67,364.93 L98.06,365.03 L98.45,365.15 L98.83,365.28 L99.22,365.42 L99.61,365.57 L99.99,365.73 L100.38,365.91 L100.77,366.09 L101.15,366.28 L101.54,366.48 L101.93,366.69 L102.31,366.90 L102.70,367.13 L103.09,367.36 L103.47,367.60 L103.86,367.84 L104.25,368.09 L104.63,368.35 L105.02,368.61 L105.41,368.87 L105.79,369.15 L106.18,369.42 L106.57,369.70 L106.95,369.99 L107.34,370.28 L107.73,370.57 L108.11,370.87 L108.50,371.17 L108.89,371.47 L109.27,371.78 L109.66,372.08 L110.05,372.40 L110.43,372.71 L110.82,373.02 L111.21,373.34 L111.59,373.66 L111.98,373.98 L112.37,374.30 L112.75,374.63 L113.14,374.95 L113.53,375.28 L113.91,375.60 L114.30,375.93 L114.69,376.26 L115.07,376.59 L115.46,376.92 L115.85,377.25 L116.23,377.58 L116.62,377.91 L117.01,378.24 L117.39,378.57 L117.78,378.90 L118.17,379.24 L118.55,379.57 L118.94,379.90 L119.33,380.23 L119.71,380.56 L120.10,380.89 L120.49,381.22 L120.87,381.54 L121.26,381.87 L121.65,382.20 L122.03,382.53 L122.42,382.85 L122.81,383.18 L123.19,383.50 L123.58,383.82 L123.97,384.15 L124.35,384.47 L124.74,384.79 L125.13,385.11 L125.51,385.43 L125.90,385.74 L126.29,386.06 L126.67,386.37 L127.06,386.69 L127.45,387.00 L127.83,387.31 L128.22,387.62 L128.61,387.93 L128.99,388.24 L129.38,388.54 L129.77,388.85 L130.15,389.15 L130.54,389.45 L130.93,389.75 L131.31,390.05 L131.70,390.35 L132.09,390.64 L132.47,390.94 L132.86,391.23 L133.25,391.52 L133.63,391.81 L134.02,392.10 L134.41,392.39 L134.79,392.68 L135.18,392.96 L135.57,393.24 L135.95,393.52 L136.34,393.80 L136.73,394.08 L137.11,394.36 L137.50,394.63 L137.89,394.91 L138.27,395.18 L138.66,395.45 L139.05,395.72 L139.43,395.99 L139.82,396.25 L140.21,396.52 L140.59,396.78 L140.98,397.04 L141.37,397.30 L142.33,397.94 L143.30,398.58 L144.26,399.20 L145.23,399.81 L146.20,400.42 L147.16,401.01 L148.13,401.60 L149.10,402.18 L150.06,402.75 L151.03,403.31 L152.00,403.86 L152.96,404.40 L153.93,404.93 L154.90,405.46 L155.86,405.97 L156.83,406.48 L157.80,406.98 L158.76,407.47 L159.73,407.96 L160.70,408.43 L161.66,408.90 L162.63,409.36 L163.60,409.81 L164.56,410.26 L165.53,410.70 L166.50,411.13 L167.46,411.56 L168.43,411.97 L169.40,412.39 L170.36,412.79 L171.33,413.19 L172.30,413.58 L173.26,413.97 L174.23,414.35 L175.20,414.72 L176.16,415.09 L177.13,415.45 L178.10,415.80 L179.06,416.15 L180.03,416.50 L181.00,416.84 L181.96,417.17 L182.93,417.50 L183.90,417.82 L184.86,418.14 L185.83,418.46 L186.80,418.76 L187.76,419.07 L188.73,419.37 L189.70,419.66 L190.66,419.95 L191.63,420.24 L192.60,420.52 L193.56,420.80 L194.53,421.07 L195.50,421.34 L196.46,421.60 L197.43,421.86 L198.40,422.12 L199.36,422.37 L200.33,422.62 L201.30,422.87 L202.26,423.11 L203.23,423.35 L204.20,423.58 L205.16,423.81 L206.13,424.04 L207.10,424.26 L208.06,424.48 L209.03,424.70 L210.00,424.92 L210.96,425.13 L211.93,425.34 L212.90,425.54 L213.86,425.75 L214.83,425.95 L215.80,426.14 L216.76,426.34 L217.73,426.53 L218.70,426.72 L219.66,426.90 L220.63,427.09 L221.60,427.27 L222.56,427.45 L223.53,427.62 L224.50,427.80 L225.46,427.97 L226.43,428.14 L227.40,428.31 L228.36,428.47 L229.33,428.63 L230.30,428.79 L231.26,428.95 L232.23,429.11 L233.20,429.26 L234.16,429.41 L235.13,429.56 L236.10,429.71 L237.06,429.86 L238.03,430.00 L239.00,430.14 L239.96,430.28 L240.93,430.42 L241.90,430.56 L242.86,430.69 L243.83,430.83 L244.80,430.96 L245.76,431.09 L246.73,431.22 L247.70,431.34 L248.66,431.47 L249.63,431.59 L250.60,431.71 L251.56,431.83 L252.53,431.95 L253.50,432.07 L254.46,432.19 L255.43,432.30 L256.40,432.41 L257.36,432.53 L258.33,432.64 L259.30,432.75 L260.26,432.85 L261.23,432.96 L262.20,433.07 L263.16,433.17 L264.13,433.27 L265.10,433.37 L266.06,433.47 L267.03,433.57 L268.00,433.67 L268.96,433.77 L269.93,433.86 L270.90,433.96 L271.86,434.05 L272.83,434.15 L273.80,434.24 L274.76,434.33 L275.73,434.42 L276.70,434.51 L277.66,434.59 L278.63,434.68 L279.60,434.76 L280.56,434.85 L281.53,434.93 L282.50,435.02 L283.46,435.10 L284.43,435.18 L285.40,435.26 L286.36,435.34 L287.33,435.41 L288.30,435.49 L289.26,435.57 L290.23,435.64 L291.20,435.72 L292.16,435.79 L293.13,435.87 L294.10,435.94 L295.06,436.01 L296.03,436.08 L297.00,436.15 L297.96,436.22 L298.93,436.29 L299.90,436.36 L300.86,436.42 L301.83,436.49 L302.80,436.56 L303.76,436.62 L304.73,436.69 L305.70,436.75 L306.66,436.81 L307.63,436.88 L308.60,436.94 L309.56,437.00 L310.53,437.06 L311.50,437.12 L312.46,437.18 L313.43,437.24 L314.40,437.30 L315.36,437.35 L316.33,437.41 L317.30,437.47 L318.26,437.52 L319.23,437.58 L320.20,437.63 L321.16,437.69 L322.13,437.74 L323.10,437.79 L324.06,437.85 L325.03,437.90 L326.00,437.95 L326.96,438.00 L327.93,438.05 L328.90,438.10 L329.86,438.15 L330.83,438.20 L331.80,438.25 L332.76,438.30 L333.73,438.35 L334.69,438.40" stroke="#813d12" stroke-linecap="square"/>
<path d="M44.70,445.80 L45.09,445.79 L45.47,445.76 L45.86,445.72 L46.25,445.66 L46.63,445.58 L47.02,445.47 L47.41,445.35 L47.79,445.21 L48.18,445.05 L48.57,444.86 L48.95,444.66 L49.34,444.42 L49.73,444.17 L50.11,443.88 L50.50,443.57 L50.89,443.23 L51.27,442.86 L51.66,442.46 L52.05,442.03 L52.43,441.55 L52.82,441.04 L53.21,440.50 L53.59,439.90 L53.98,439.27 L54.37,438.58 L54.75,437.85 L55.14,437.06 L55.53,436.21 L55.91,435.29 L56.30,434.31 L56.69,433.26 L57.07,432.13 L57.46,430.91 L57.85,429.61 L58.23,428.20 L58.62,426.69 L59.01,425.06 L59.39,423.30 L59.78,421.41 L60.17,419.37 L60.55,417.17 L60.94,414.80 L61.33,412.24 L61.71,409.48 L62.10,406.50 L62.49,403.30 L62.87,399.85 L63.26,396.15 L63.65,392.18 L64.03,387.95 L64.42,383.46 L64.81,378.70 L65.19,373.70 L65.58,368.47 L65.97,363.04 L66.35,357.45 L66.74,351.73 L67.13,345.93 L67.51,340.10 L67.90,334.27 L68.29,328.49 L68.67,322.79 L69.06,317.21 L69.45,311.77 L69.83,306.51 L70.22,301.43 L70.61,296.55 L70.99,291.88 L71.38,287.42 L71.77,283.18 L72.15,279.16 L72.54,275.35 L72.93,271.75 L73.31,268.36 L73.70,265.17 L74.09,262.18 L74.47,259.38 L74.86,256.76 L75.25,254.31 L75.63,252.04 L76.02,249.92 L76.41,247.96 L76.79,246.15 L77.18,244.48 L77.57,242.95 L77.95,241.55 L78.34,240.27 L78.73,239.10 L79.11,238.05 L79.50,237.11 L79.89,236.27 L80.27,235.52 L80.66,234.87 L81.05,234.31 L81.43,233.83 L81.82,233.43 L82.21,233.11 L82.59,232.86 L82.98,232.67 L83.37,232.56 L83.75,232.50 L84.14,232.51 L84.53,232.57 L84.91,232.69 L85.30,232.86 L85.69,233.07 L86.07,233.33 L86.46,233.64 L86.85,233.99 L87.23,234.37 L87.62,234.80 L88.01,235.26 L88.39,235.75 L88.78,236.28 L89.17,236.84 L89.55,237.42 L89.94,238.04 L90.33,238.68 L90.71,239.34 L91.10,240.03 L91.49,240.74 L91.87,241.47 L92.26,242.21 L92.65,242.98 L93.03,243.77 L93.42,244.57 L93.81,245.38 L94.19,246.21 L94.58,247.06 L94.97,247.91 L95.35,248.78 L95.74,249.66 L96.13,250.55 L96.51,251.45 L96.90,252.36 L97.29,253.28 L97.67,254.20 L98.06,255.13 L98.45,256.07 L98.83,257.01 L99.22,257.96 L99.61,258.91 L99.99,259.87 L100.38,260.83 L100.77,261.79 L101.15,262.76 L101.54,263.73 L101.93,264.70 L102.31,265.68 L102.70,266.65 L103.09,267.63 L103.47,268.60 L103.86,269.58 L104.25,270.56 L104.63,271.53 L105.02,272.51 L105.41,273.49 L105.79,274.46 L106.18,275.43 L106.57,276.41 L106.95,277.38 L107.34,278.35 L107.73,279.31 L108.11,280.28 L108.50,281.24 L108.89,282.20 L109.27,283.15 L109.66,284.11 L110.05,285.06 L110.43,286.01 L110.82,286.95 L111.21,287.89 L111.59,288.83 L111.98,289.76 L112.37,290.69 L112.75,291.62 L113.14,292.54 L113.53,293.46 L113.91,294.37 L114.30,295.28 L114.69,296.18 L115.07,297.08 L115.46,297.98 L115.85,298.87 L116.23,299.76 L116.62,300.64 L117.01,301.52 L117.39,302.39 L117.78,303.26 L118.17,304.12 L118.55,304.98 L118.94,305.83 L119.33,306.68 L119.71,307.53 L120.10,308.37 L120.49,309.20 L120.87,310.03 L121.26,310.85 L121.65,311.67 L122.03,312.49 L122.42,313.30 L122.81,314.10 L123.19,314.90 L123.58,315.69 L123.97,316.48 L124.35,317.27 L124.74,318.04 L125.13,318.82 L125.51,319.59 L125.90,320.35 L126.29,321.11 L126.67,321.86 L127.06,322.61 L127.45,323.35 L127.83,324.09 L128.22,324.82 L128.61,325.55 L128.99,326.28 L129.38,327.00 L129.77,327.71 L130.15,328.42 L130.54,329.12 L130.93,329.82 L131.31,330.51 L131.70,331.20 L132.09,331.89 L132.47,332.57 L132.86,333.24 L133.25,333.91 L133.63,334.58 L134.02,335.24 L134.41,335.89 L134.79,336.54 L135.18,337.19 L135.57,337.83 L135.95,338.47 L136.34,339.10 L136.73,339.73 L137.11,340.35 L137.50,340.97 L137.89,341.59 L138.27,342.20 L138.66,342.80 L139.05,343.41 L139.43,344.00 L139.82,344.60 L140.21,345.18 L140.59,345.77 L140.98,346.35 L141.37,346.92 L142.33,348.34 L143.30,349.74 L144.26,351.11 L145.23,352.45 L146.20,353.78 L147.16,355.07 L148.13,356.34 L149.10,357.59 L150.06,358.82 L151.03,360.03 L152.00,361.21 L152.96,362.37 L153.93,363.51 L154.90,364.63 L155.86,365.73 L156.83,366.81 L157.80,367.87 L158.76,368.91 L159.73,369.94 L160.70,370.94 L161.66,371.93 L162.63,372.90 L163.60,373.85 L164.56,374.78 L165.53,375.70 L166.50,376.61 L167.46,377.49 L168.43,378.36 L169.40,379.22 L170.36,380.06 L171.33,380.89 L172.30,381.70 L173.26,382.50 L174.23,383.28 L175.20,384.05 L176.16,384.81 L177.13,385.56 L178.10,386.29 L179.06,387.01 L180.03,387.72 L181.00,388.41 L181.96,389.10 L182.93,389.77 L183.90,390.43 L184.86,391.08 L185.83,391.73 L186.80,392.35 L187.76,392.97 L188.73,393.58 L189.70,394.18 L190.66,394.77 L191.63,395.35 L192.60,395.93 L193.56,396.49 L194.53,397.04 L195.50,397.58 L196.46,398.12 L197.43,398.65 L198.40,399.17 L199.36,399.68 L200.33,400.18 L201.30,400.68 L202.26,401.16 L203.23,401.64 L204.20,402.12 L205.16,402.58 L206.13,403.04 L207.10,403.49 L208.06,403.94 L209.03,404.37 L210.00,404.81 L210.96,405.23 L211.93,405.65 L212.90,406.06 L213.86,406.47 L214.83,406.87 L215.80,407.26 L216.76,407.65 L217.73,408.04 L218.70,408.41 L219.66,408.79 L220.63,409.15 L221.60,409.52 L222.56,409.87 L223.53,410.22 L224.50,410.57 L225.46,410.91 L226.43,411.25 L227.40,411.58 L228.36,411.91 L229.33,412.23 L230.30,412.55 L231.26,412.87 L232.23,413.18 L233.20,413.48 L234.16,413.78 L235.13,414.08 L236.10,414.37 L237.06,414.66 L238.03,414.95 L239.00,415.23 L239.96,415.51 L240.93,415.78 L241.90,416.06 L242.86,416.32 L243.83,416.59 L244.80,416.85 L245.76,417.11 L246.73,417.36 L247.70,417.61 L248.66,417.86 L249.63,418.10 L250.60,418.34 L251.56,418.58 L252.53,418.82 L253.50,419.05 L254.46,419.28 L255.43,419.50 L256.40,419.73 L257.36,419.95 L258.33,420.17 L259.30,420.38 L260.26,420.59 L261.23,420.80 L262.20,421.01 L263.16,421.22 L264.13,421.42 L265.10,421.62 L266.06,421.82 L267.03,422.01 L268.00,422.21 L268.96,422.40 L269.93,422.58 L270.90,422.77 L271.86,422.96 L272.83,423.14 L273.80,423.32 L274.76,423.49 L275.73,423.67 L276.70,423.84 L277.66,424.02 L278.63,424.19 L279.60,424.35 L280.56,424.52 L281.53,424.68 L282.50,424.85 L283.46,425.01 L284.43,425.16 L285.40,425.32 L286.36,425.48 L287.33,425.63 L288.30,425.78 L289.26,425.93 L290.23,426.08 L291.20,426.23 L292.16,426.37 L293.13,426.51 L294.10,426.66 L295.06,426.80 L296.03,426.94 L297.00,427.07 L297.96,427.21 L298.93,427.34 L299.90,427.48 L300.86,427.61 L301.83,427.74 L302.80,427.87 L303.76,427.99 L304.73,428.12 L305.70,428.25 L306.66,428.37 L307.63,428.49 L308.60,428.61 L309.56,428.73 L310.53,428.85 L311.50,428.97 L312.46,429.08 L313.43,429.20 L314.40,429.31 L315.36,429.43 L316.33,429.54 L317.30,429.65 L318.26,429.76 L319.23,429.86 L320.20,429.97 L321.16,430.08 L322.13,430.18 L323.10,430.29 L324.06,430.39 L325.03,430.49 L326.00,430.59 L326.96,430.69 L327.93,430.79 L328.90,430.89 L329.86,430.99 L330.83,431.08 L331.80,431.18 L332.76,431.27 L333.73,431.37 L334.69,431.46" stroke="#4a7ccc" stroke-dasharray="6.33 2.74" stroke-dashoffset="4.3"/>
<path d="M44.70,445.80 L45.09,445.80 L45.47,445.79 L45.86,445.77 L46.25,445.75 L46.63,445.72 L47.02,445.68 L47.41,445.62 L47.79,445.54 L48.18,445.44 L48.57,445.31 L48.95,445.14 L49.34,444.92 L49.73,444.65 L50.11,444.32 L50.50,443.92 L50.89,443.44 L51.27,442.86 L51.66,442.18 L52.05,441.39 L52.43,440.49 L52.82,439.46 L53.21,438.29 L53.59,436.99 L53.98,435.54 L54.37,433.95 L54.75,432.20 L55.14,430.30 L55.53,428.24 L55.91,426.01 L56.30,423.62 L56.69,421.06 L57.07,418.32 L57.46,415.41 L57.85,412.30 L58.23,409.01 L58.62,405.52 L59.01,401.83 L59.39,397.94 L59.78,393.85 L60.17,389.55 L60.55,385.06 L60.94,380.37 L61.33,375.50 L61.71,370.47 L62.10,365.29 L62.49,360.00 L62.87,354.62 L63.26,349.19 L63.65,343.74 L64.03,338.32 L64.42,332.97 L64.81,327.71 L65.19,322.59 L65.58,317.63 L65.97,312.87 L66.35,308.31 L66.74,303.98 L67.13,299.89 L67.51,296.04 L67.90,292.44 L68.29,289.09 L68.67,285.98 L69.06,283.11 L69.45,280.47 L69.83,278.05 L70.22,275.85 L70.61,273.86 L70.99,272.06 L71.38,270.45 L71.77,269.02 L72.15,267.75 L72.54,266.63 L72.93,265.67 L73.31,264.84 L73.70,264.14 L74.09,263.57 L74.47,263.10 L74.86,262.75 L75.25,262.49 L75.63,262.32 L76.02,262.24 L76.41,262.24 L76.79,262.32 L77.18,262.46 L77.57,262.67 L77.95,262.94 L78.34,263.26 L78.73,263.64 L79.11,264.06 L79.50,264.53 L79.89,265.03 L80.27,265.58 L80.66,266.16 L81.05,266.77 L81.43,267.41 L81.82,268.07 L82.21,268.77 L82.59,269.48 L82.98,270.21 L83.37,270.97 L83.75,271.74 L84.14,272.52 L84.53,273.33 L84.91,274.14 L85.30,274.96 L85.69,275.80 L86.07,276.64 L86.46,277.49 L86.85,278.35 L87.23,279.21 L87.62,280.08 L88.01,280.96 L88.39,281.83 L88.78,282.71 L89.17,283.60 L89.55,284.48 L89.94,285.36 L90.33,286.25 L90.71,287.13 L91.10,288.02 L91.49,288.90 L91.87,289.79 L92.26,290.67 L92.65,291.55 L93.03,292.42 L93.42,293.30 L93.81,294.17 L94.19,295.04 L94.58,295.90 L94.97,296.76 L95.35,297.62 L95.74,298.47 L96.13,299.32 L96.51,300.16 L96.90,301.00 L97.29,301.84 L97.67,302.67 L98.06,303.50 L98.45,304.32 L98.83,305.13 L99.22,305.94 L99.61,306.75 L99.99,307.55 L100.38,308.34 L100.77,309.13 L101.15,309.92 L101.54,310.70 L101.93,311.47 L102.31,312.24 L102.70,313.00 L103.09,313.75 L103.47,314.51 L103.86,315.25 L104.25,315.99 L104.63,316.72 L105.02,317.45 L105.41,318.18 L105.79,318.89 L106.18,319.61 L106.57,320.31 L106.95,321.01 L107.34,321.71 L107.73,322.40 L108.11,323.08 L108.50,323.76 L108.89,324.43 L109.27,325.10 L109.66,325.77 L110.05,326.42 L110.43,327.08 L110.82,327.72 L111.21,328.36 L111.59,329.00 L111.98,329.63 L112.37,330.26 L112.75,330.88 L113.14,331.49 L113.53,332.10 L113.91,332.71 L114.30,333.31 L114.69,333.91 L115.07,334.50 L115.46,335.08 L115.85,335.67 L116.23,336.24 L116.62,336.81 L117.01,337.38 L117.39,337.94 L117.78,338.50 L118.17,339.05 L118.55,339.60 L118.94,340.15 L119.33,340.69 L119.71,341.22 L120.10,341.75 L120.49,342.28 L120.87,342.80 L121.26,343.32 L121.65,343.83 L122.03,344.34 L122.42,344.85 L122.81,345.35 L123.19,345.85 L123.58,346.34 L123.97,346.83 L124.35,347.32 L124.74,347.80 L125.13,348.28 L125.51,348.75 L125.90,349.22 L126.29,349.69 L126.67,350.15 L127.06,350.61 L127.45,351.06 L127.83,351.51 L128.22,351.96 L128.61,352.41 L128.99,352.85 L129.38,353.28 L129.77,353.72 L130.15,354.15 L130.54,354.58 L130.93,355.00 L131.31,355.42" stroke="#000000" stroke-dasharray="6.33 2.74"/>
<path d="M131.31,355.42 L131.70,355.84 L132.09,356.25 L132.47,356.66 L132.86,357.07 L133.25,357.47 L133.63,357.88 L134.02,358.27 L134.41,358.67 L134.79,359.06 L135.18,359.45 L135.57,359.84 L135.95,360.22 L136.34,360.60 L136.73,360.98 L137.11,361.35 L137.50,361.72 L137.89,362.09 L138.27,362.46 L138.66,362.82 L139.05,363.18 L139.43,363.54 L139.82,363.90 L140.21,364.25 L140.59,364.60 L140.98,364.95 L141.37,365.29 L142.33,366.14 L143.30,366.98 L144.26,367.80 L145.23,368.60 L146.20,369.39 L147.16,370.17 L148.13,370.93 L149.10,371.68 L150.06,372.42 L151.03,373.14 L152.00,373.86 L152.96,374.56 L153.93,375.24 L154.90,375.92 L155.86,376.58 L156.83,377.24 L157.80,377.88 L158.76,378.51 L159.73,379.13 L160.70,379.74 L161.66,380.34 L162.63,380.93 L163.60,381.52 L164.56,382.09 L165.53,382.65 L166.50,383.21 L167.46,383.75 L168.43,384.29 L169.40,384.82 L170.36,385.34 L171.33,385.85 L172.30,386.36 L173.26,386.86 L174.23,387.35 L175.20,387.83 L176.16,388.30 L177.13,388.77 L178.10,389.23 L179.06,389.69 L180.03,390.14 L181.00,390.58 L181.96,391.02 L182.93,391.44 L183.90,391.87 L184.86,392.29 L185.83,392.70 L186.80,393.10 L187.76,393.50 L188.73,393.90 L189.70,394.29 L190.66,394.67 L191.63,395.05 L192.60,395.42 L193.56,395.79 L194.53,396.15 L195.50,396.51 L196.46,396.87 L197.43,397.22 L198.40,397.56 L199.36,397.90 L200.33,398.24 L201.30,398.57 L202.26,398.90 L203.23,399.22 L204.20,399.54 L205.16,399.85 L206.13,400.17 L207.10,400.47 L208.06,400.78 L209.03,401.08 L210.00,401.37 L210.96,401.66 L211.93,401.95 L212.90,402.24 L213.86,402.52 L214.83,402.80 L215.80,403.08 L216.76,403.35 L217.73,403.62 L218.70,403.88 L219.66,404.14 L220.63,404.40 L221.60,404.66 L222.56,404.92 L223.53,405.17 L224.50,405.41 L225.46,405.66 L226.43,405.90 L227.40,406.14 L228.36,406.38 L229.33,406.61 L230.30,406.85 L231.26,407.07 L232.23,407.30 L233.20,407.53 L234.16,407.75 L235.13,407.97 L236.10,408.18 L237.06,408.40 L238.03,408.61 L239.00,408.82 L239.96,409.03 L240.93,409.24 L241.90,409.44 L242.86,409.64 L243.83,409.84 L244.80,410.04 L245.76,410.24 L246.73,410.43 L247.70,410.62 L248.66,410.81 L249.63,411.00 L250.60,411.18 L251.56,411.37 L252.53,411.55 L253.50,411.73 L254.46,411.91 L255.43,412.09 L256.40,412.26 L257.36,412.44 L258.33,412.61 L259.30,412.78 L260.26,412.95 L261.23,413.11 L262.20,413.28 L263.16,413.44 L264.13,413.60 L265.10,413.77 L266.06,413.92 L267.03,414.08 L268.00,414.24 L268.96,414.39 L269.93,414.55 L270.90,414.70 L271.86,414.85 L272.83,415.00 L273.80,415.15 L274.76,415.29 L275.73,415.44 L276.70,415.58 L277.66,415.73 L278.63,415.87 L279.60,416.01 L280.56,416.15 L281.53,416.28 L282.50,416.42 L283.46,416.56 L284.43,416.69 L285.40,416.82 L286.36,416.96 L287.33,417.09 L288.30,417.22 L289.26,417.35 L290.23,417.47 L291.20,417.60 L292.16,417.73 L293.13,417.85 L294.10,417.97 L295.06,418.10 L296.03,418.22 L297.00,418.34 L297.96,418.46 L298.93,418.58 L299.90,418.69 L300.86,418.81 L301.83,418.92 L302.80,419.04 L303.76,419.15 L304.73,419.27 L305.70,419.38 L306.66,419.49 L307.63,419.60 L308.60,419.71 L309.56,419.82 L310.53,419.92 L311.50,420.03 L312.46,420.14 L313.43,420.24 L314.40,420.35 L315.36,420.45 L316.33,420.55 L317.30,420.65 L318.26,420.76 L319.23,420.86 L320.20,420.96 L321.16,421.06 L322.13,421.15 L323.10,421.25 L324.06,421.35 L325.03,421.44 L326.00,421.54 L326.96,421.63 L327.93,421.73 L328.90,421.82 L329.86,421.91 L330.83,422.01 L331.80,422.10 L332.76,422.19 L333.73,422.28 L334.69,422.37" stroke="#000000" stroke-dasharray="6.33 2.74" stroke-dashoffset="1.60" stroke-width="1.3"/>
<path d="M44.70,445.80 L45.09,445.80 L45.47,445.79 L45.86,445.79 L46.25,445.78 L46.63,445.76 L47.02,445.75 L47.41,445.73 L47.79,445.70 L48.18,445.68 L48.57,445.65 L48.95,445.62 L49.34,445.58 L49.73,445.54 L50.11,445.50 L50.50,445.45 L50.89,445.40 L51.27,445.34 L51.66,445.28 L52.05,445.22 L52.43,445.15 L52.82,445.07 L53.21,444.99 L53.59,444.91 L53.98,444.82 L54.37,444.72 L54.75,444.62 L55.14,444.51 L55.53,444.39 L55.91,444.27 L56.30,444.14 L56.69,444.00 L57.07,443.85 L57.46,443.70 L57.85,443.53 L58.23,443.36 L58.62,443.18 L59.01,442.98 L59.39,442.77 L59.78,442.55 L60.17,442.32 L60.55,442.07 L60.94,441.81 L61.33,441.54 L61.71,441.24 L62.10,440.93 L62.49,440.60 L62.87,440.24 L63.26,439.87 L63.65,439.47 L64.03,439.04 L64.42,438.58 L64.81,438.10 L65.19,437.58 L65.58,437.03 L65.97,436.43 L66.35,435.80 L66.74,435.12 L67.13,434.39 L67.51,433.61 L67.90,432.77 L68.29,431.86 L68.67,430.89 L69.06,429.84 L69.45,428.71 L69.83,427.49 L70.22,426.18 L70.61,424.76 L70.99,423.23 L71.38,421.57 L71.77,419.79 L72.15,417.88 L72.54,415.82 L72.93,413.61 L73.31,411.26 L73.70,408.75 L74.09,406.08 L74.47,403.27 L74.86,400.32 L75.25,397.23 L75.63,394.03 L76.02,390.73 L76.41,387.34 L76.79,383.89 L77.18,380.40 L77.57,376.88 L77.95,373.35 L78.34,369.83 L78.73,366.34 L79.11,362.89 L79.50,359.50 L79.89,356.17 L80.27,352.91 L80.66,349.75 L81.05,346.67 L81.43,343.70 L81.82,340.82 L82.21,338.06 L82.59,335.40 L82.98,332.86 L83.37,330.44 L83.75,328.13 L84.14,325.94 L84.53,323.87 L84.91,321.91 L85.30,320.07 L85.69,318.34 L86.07,316.73 L86.46,315.23 L86.85,313.83 L87.23,312.54 L87.62,311.36 L88.01,310.28 L88.39,309.29 L88.78,308.40 L89.17,307.60 L89.55,306.89 L89.94,306.26 L90.33,305.71 L90.71,305.24 L91.10,304.84 L91.49,304.52 L91.87,304.26 L92.26,304.07 L92.65,303.93 L93.03,303.86 L93.42,303.84 L93.81,303.87 L94.19,303.94 L94.58,304.07 L94.97,304.23 L95.35,304.44 L95.74,304.68 L96.13,304.96 L96.51,305.27 L96.90,305.62 L97.29,305.99 L97.67,306.38 L98.06,306.81 L98.45,307.25 L98.83,307.72 L99.22,308.20 L99.61,308.70 L99.99,309.22 L100.38,309.76 L100.77,310.30 L101.15,310.86 L101.54,311.43 L101.93,312.02 L102.31,312.61 L102.70,313.20 L103.09,313.81 L103.47,314.42 L103.86,315.04 L104.25,315.66 L104.63,316.29 L105.02,316.92 L105.41,317.55 L105.79,318.19 L106.18,318.83 L106.57,319.47 L106.95,320.11 L107.34,320.75 L107.73,321.39 L108.11,322.03 L108.50,322.67 L108.89,323.31 L109.27,323.94 L109.66,324.58 L110.05,325.21 L110.43,325.84 L110.82,326.47 L111.21,327.10 L111.59,327.73 L111.98,328.35 L112.37,328.97 L112.75,329.58 L113.14,330.20 L113.53,330.81 L113.91,331.41 L114.30,332.02 L114.69,332.62 L115.07,333.21 L115.46,333.80 L115.85,334.39 L116.23,334.98 L116.62,335.56 L117.01,336.13 L117.39,336.71 L117.78,337.27 L118.17,337.84 L118.55,338.40 L118.94,338.96 L119.33,339.51 L119.71,340.06 L120.10,340.60 L120.49,341.14 L120.87,341.68 L121.26,342.21 L121.65,342.74 L122.03,343.26 L122.42,343.78 L122.81,344.30 L123.19,344.81 L123.58,345.32 L123.97,345.82 L124.35,346.32 L124.74,346.82 L125.13,347.31 L125.51,347.80 L125.90,348.28 L126.29,348.76 L126.67,349.24 L127.06,349.71 L127.45,350.18 L127.83,350.65 L128.22,351.11 L128.61,351.57 L128.99,352.02 L129.38,352.47 L129.77,352.92 L130.15,353.36 L130.54,353.80 L130.93,354.24 L131.31,354.67 L131.70,355.10 L132.09,355.53 L132.47,355.95 L132.86,356.37 L133.25,356.79 L133.63,357.20 L134.02,357.61 L134.41,358.02 L134.79,358.42 L135.18,358.82 L135.57,359.22 L135.95,359.61 L136.34,360.00 L136.73,360.39 L137.11,360.77 L137.50,361.15 L137.89,361.53 L138.27,361.91 L138.66,362.28 L139.05,362.65 L139.43,363.02 L139.82,363.38 L140.21,363.74 L140.59,364.10 L140.98,364.46 L141.37,364.81 L142.33,365.68 L143.30,366.54 L144.26,367.38 L145.23,368.20 L146.20,369.01 L147.16,369.80 L148.13,370.58 L149.10,371.34 L150.06,372.09 L151.03,372.83 L152.00,373.56 L152.96,374.27 L153.93,374.97 L154.90,375.65 L155.86,376.33 L156.83,376.99 L157.80,377.64 L158.76,378.29 L159.73,378.92 L160.70,379.53 L161.66,380.14 L162.63,380.74 L163.60,381.33 L164.56,381.91 L165.53,382.48 L166.50,383.04 L167.46,383.60 L168.43,384.14 L169.40,384.67 L170.36,385.20 L171.33,385.72 L172.30,386.23 L173.26,386.73 L174.23,387.23 L175.20,387.71 L176.16,388.19 L177.13,388.67 L178.10,389.13 L179.06,389.59 L180.03,390.04 L181.00,390.49 L181.96,390.93 L182.93,391.36 L183.90,391.79 L184.86,392.21 L185.83,392.62 L186.80,393.03 L187.76,393.43 L188.73,393.83 L189.70,394.22 L190.66,394.60 L191.63,394.99 L192.60,395.36 L193.56,395.73 L194.53,396.10 L195.50,396.46 L196.46,396.81 L197.43,397.16 L198.40,397.51 L199.36,397.85 L200.33,398.19 L201.30,398.52 L202.26,398.85 L203.23,399.18 L204.20,399.50 L205.16,399.81 L206.13,400.13 L207.10,400.44 L208.06,400.74 L209.03,401.04 L210.00,401.34 L210.96,401.63 L211.93,401.92 L212.90,402.21 L213.86,402.49 L214.83,402.77 L215.80,403.05 L216.76,403.32 L217.73,403.59 L218.70,403.86 L219.66,404.12 L220.63,404.38 L221.60,404.64 L222.56,404.89 L223.53,405.14 L224.50,405.39 L225.46,405.64 L226.43,405.88 L227.40,406.12 L228.36,406.36 L229.33,406.59 L230.30,406.83 L231.26,407.06 L232.23,407.28 L233.20,407.51 L234.16,407.73 L235.13,407.95 L236.10,408.17 L237.06,408.38 L238.03,408.60 L239.00,408.81 L239.96,409.02 L240.93,409.22 L241.90,409.43 L242.86,409.63 L243.83,409.83 L244.80,410.03 L245.76,410.22 L246.73,410.42 L247.70,410.61 L248.66,410.80 L249.63,410.99 L250.60,411.17 L251.56,411.36 L252.53,411.54 L253.50,411.72 L254.46,411.90 L255.43,412.08 L256.40,412.25 L257.36,412.43 L258.33,412.60 L259.30,412.77 L260.26,412.94 L261.23,413.10 L262.20,413.27 L263.16,413.43 L264.13,413.60 L265.10,413.76 L266.06,413.92 L267.03,414.08 L268.00,414.23 L268.96,414.39 L269.93,414.54 L270.90,414.69 L271.86,414.84 L272.83,414.99 L273.80,415.14 L274.76,415.29 L275.73,415.43 L276.70,415.58 L277.66,415.72 L278.63,415.86 L279.60,416.00 L280.56,416.14 L281.53,416.28 L282.50,416.42 L283.46,416.55 L284.43,416.69 L285.40,416.82 L286.36,416.95 L287.33,417.08 L288.30,417.21 L289.26,417.34 L290.23,417.47 L291.20,417.60 L292.16,417.72 L293.13,417.85 L294.10,417.97 L295.06,418.09 L296.03,418.21 L297.00,418.33 L297.96,418.45 L298.93,418.57 L299.90,418.69 L300.86,418.81 L301.83,418.92 L302.80,419.04 L303.76,419.15 L304.73,419.26 L305.70,419.37 L306.66,419.49 L307.63,419.60 L308.60,419.71 L309.56,419.81 L310.53,419.92 L311.50,420.03 L312.46,420.13 L313.43,420.24 L314.40,420.34 L315.36,420.45 L316.33,420.55 L317.30,420.65 L318.26,420.75 L319.23,420.85 L320.20,420.95 L321.16,421.05 L322.13,421.15 L323.10,421.25 L324.06,421.35 L325.03,421.44 L326.00,421.54 L326.96,421.63 L327.93,421.73 L328.90,421.82 L329.86,421.91 L330.83,422.00 L331.80,422.09 L332.76,422.19 L333.73,422.28 L334.69,422.36" stroke="#cc1a1e" stroke-linecap="square" stroke-width="1.8"/>
</g>
<g stroke="#444" stroke-width="1.1" fill="none">
<rect x="44.7" y="4.3" width="290" height="220.6"/>
<rect x="44.7" y="224.9" width="290" height="220.9"/>
<path d="M44.70,224.9v-3"/>
<path d="M44.70,445.8v-3"/>
<path d="M83.37,224.9v-3"/>
<path d="M83.37,445.8v-3"/>
<path d="M122.03,224.9v-3"/>
<path d="M122.03,445.8v-3"/>
<path d="M160.70,224.9v-3"/>
<path d="M160.70,445.8v-3"/>
<path d="M199.36,224.9v-3"/>
<path d="M199.36,445.8v-3"/>
<path d="M238.03,224.9v-3"/>
<path d="M238.03,445.8v-3"/>
<path d="M276.70,224.9v-3"/>
<path d="M276.70,445.8v-3"/>
<path d="M315.36,224.9v-3"/>
<path d="M315.36,445.8v-3"/>
<path d="M44.7,224.90h3"/>
<path d="M44.7,200.39h3"/>
<path d="M44.7,175.88h3"/>
<path d="M44.7,151.37h3"/>
<path d="M44.7,126.86h3"/>
<path d="M44.7,102.34h3"/>
<path d="M44.7,77.83h3"/>
<path d="M44.7,53.32h3"/>
<path d="M44.7,28.81h3"/>
<path d="M44.7,4.30h3"/>
<path d="M44.7,445.80h3"/>
<path d="M44.7,418.19h3"/>
<path d="M44.7,390.57h3"/>
<path d="M44.7,362.96h3"/>
<path d="M44.7,335.35h3"/>
<path d="M44.7,307.74h3"/>
<path d="M44.7,280.12h3"/>
<path d="M44.7,252.51h3"/>
</g>
<text x="41.60" y="229.30" text-anchor="end" textLength="18.58" lengthAdjust="spacingAndGlyphs">1.0</text>
<text x="41.60" y="204.79" text-anchor="end" textLength="18.58" lengthAdjust="spacingAndGlyphs">1.2</text>
<text x="41.60" y="180.28" text-anchor="end" textLength="18.58" lengthAdjust="spacingAndGlyphs">1.4</text>
<text x="41.60" y="155.77" text-anchor="end" textLength="18.58" lengthAdjust="spacingAndGlyphs">1.6</text>
<text x="41.60" y="131.26" text-anchor="end" textLength="18.58" lengthAdjust="spacingAndGlyphs">1.8</text>
<text x="41.60" y="106.74" text-anchor="end" textLength="18.58" lengthAdjust="spacingAndGlyphs">2.0</text>
<text x="41.60" y="82.23" text-anchor="end" textLength="18.58" lengthAdjust="spacingAndGlyphs">2.2</text>
<text x="41.60" y="57.72" text-anchor="end" textLength="18.58" lengthAdjust="spacingAndGlyphs">2.4</text>
<text x="41.60" y="33.21" text-anchor="end" textLength="18.58" lengthAdjust="spacingAndGlyphs">2.6</text>
<text x="41.60" y="8.70" text-anchor="end" textLength="18.58" lengthAdjust="spacingAndGlyphs">2.8</text>
<text x="41.60" y="450.20" text-anchor="end" textLength="26.22" lengthAdjust="spacingAndGlyphs">0.00</text>
<text x="41.60" y="422.59" text-anchor="end" textLength="26.22" lengthAdjust="spacingAndGlyphs">0.02</text>
<text x="41.60" y="394.97" text-anchor="end" textLength="26.22" lengthAdjust="spacingAndGlyphs">0.04</text>
<text x="41.60" y="367.36" text-anchor="end" textLength="26.22" lengthAdjust="spacingAndGlyphs">0.06</text>
<text x="41.60" y="339.75" text-anchor="end" textLength="26.22" lengthAdjust="spacingAndGlyphs">0.08</text>
<text x="41.60" y="312.14" text-anchor="end" textLength="26.22" lengthAdjust="spacingAndGlyphs">0.10</text>
<text x="41.60" y="284.52" text-anchor="end" textLength="26.22" lengthAdjust="spacingAndGlyphs">0.12</text>
<text x="41.60" y="256.91" text-anchor="end" textLength="26.22" lengthAdjust="spacingAndGlyphs">0.14</text>
<text x="44.70" y="458.30" text-anchor="middle" textLength="7.13" lengthAdjust="spacingAndGlyphs">0</text>
<text x="83.37" y="458.30" text-anchor="middle" textLength="7.13" lengthAdjust="spacingAndGlyphs">2</text>
<text x="122.03" y="458.30" text-anchor="middle" textLength="7.13" lengthAdjust="spacingAndGlyphs">4</text>
<text x="160.70" y="458.30" text-anchor="middle" textLength="7.13" lengthAdjust="spacingAndGlyphs">6</text>
<text x="199.36" y="458.30" text-anchor="middle" textLength="7.13" lengthAdjust="spacingAndGlyphs">8</text>
<text x="238.03" y="458.30" text-anchor="middle" textLength="14.77" lengthAdjust="spacingAndGlyphs">10</text>
<text x="276.70" y="458.30" text-anchor="middle" textLength="14.77" lengthAdjust="spacingAndGlyphs">12</text>
<text x="315.36" y="458.30" text-anchor="middle" textLength="14.77" lengthAdjust="spacingAndGlyphs">14</text>
<text x="189.6" y="474.0" text-anchor="middle" font-style="italic" textLength="6.25" lengthAdjust="spacingAndGlyphs">s</text>
<g fill="none" stroke-width="1.7">
<path d="M193.75,240.6H218.95" stroke="#3c8647"/>
<path d="M193.75,253.4H218.95" stroke="#813d12"/>
<path d="M194.6,266.0H218.1" stroke="#4a7ccc" stroke-dasharray="6.33 2.74"/>
<path d="M194.6,278.9H218.1" stroke="#000000" stroke-dasharray="6.33 2.74"/>
<path d="M193.75,291.4H218.95" stroke="#cc1a1e"/>
</g>
<text x="228.30" y="244.60" text-anchor="start" textLength="29.65" lengthAdjust="spacingAndGlyphs">PBEx</text>
<text x="228.30" y="257.40" text-anchor="start" textLength="46.08" lengthAdjust="spacingAndGlyphs">PBEsolx</text>
<text x="228.30" y="270.00" text-anchor="start" textLength="48.57" lengthAdjust="spacingAndGlyphs">revPBEx</text>
<text x="228.30" y="282.90" text-anchor="start" textLength="38.30" lengthAdjust="spacingAndGlyphs">rPW86</text>
<text x="228.30" y="295.40" text-anchor="start" textLength="95.86" lengthAdjust="spacingAndGlyphs">cx13(LV-rPW86)</text>
<g transform="translate(16.5,128.3) rotate(-90)"><text x="0" y="0" font-style="italic">F</text><text x="7.0" y="2.3" font-style="italic" font-size="8.8">x</text><text x="12.4" y="0">(</text><text x="17.2" y="0" font-style="italic">s</text><text x="23.0" y="0">)</text></g>
<g transform="translate(9.3,348.1) rotate(-90)"><path transform="scale(1.1,1)" d="M0.6,-6.9C1.0,-8.0 2.2,-8.4 3.7,-8.0C3.0,-5.5 2.4,-2.5 1.8,-0.4M9.3,-8.2C8.4,-6 7.4,-3 6.8,-0.6C7.3,-0.1 8.2,-0.3 8.7,-1.0" fill="none" stroke="#000" stroke-width="1.35" stroke-linecap="round" stroke-linejoin="round"/><path d="M3.2,-4.7L8.4,-4.7" fill="none" stroke="#000" stroke-width="0.8"/><text x="10.9" y="-1.2" font-size="11.2">(</text><text x="14.6" y="0" font-style="italic">s</text><text x="21.2" y="-1.2" font-size="11.2">)</text></g>
</svg>
</body></html>
